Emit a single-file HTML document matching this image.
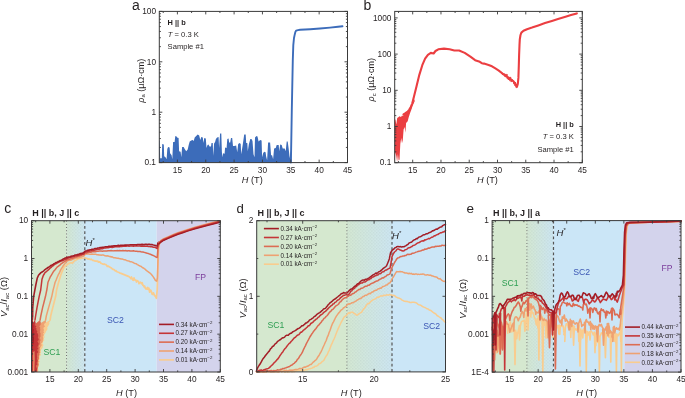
<!DOCTYPE html><html><head><meta charset="utf-8"><style>html,body{margin:0;padding:0;background:#fff;overflow:hidden}svg{display:block;will-change:transform}</style></head><body><svg width="685" height="398" viewBox="0 0 685 398" font-family="Liberation Sans, sans-serif">
<rect width="685" height="398" fill="#ffffff"/>
<defs>
<pattern id="stip" width="3.2" height="3.2" patternUnits="userSpaceOnUse"><rect x="0.2" y="0.2" width="1" height="1" fill="#9fb0b0" opacity="0.35"/><rect x="1.8" y="1.8" width="1" height="1" fill="#9fb0b0" opacity="0.35"/></pattern>
<linearGradient id="gb" x1="0" x2="1" y1="0" y2="0"><stop offset="0" stop-color="#d4e8d2"/><stop offset="1" stop-color="#cde6f2"/></linearGradient>
</defs>
<text x="132" y="10" font-size="14" text-anchor="start" font-weight="normal" font-style="normal" fill="#231f20" >a</text>
<polygon points="159.3,140.6 159.7,140.6 160.2,158.2 161.8,158.2 162.2,144.1 163.8,144.6 164.2,156.2 165.5,157.2 166.6,159.2 167.3,149.1 168.1,147.1 169.6,147.6 170.1,153.2 171.6,155.2 172.3,159.2 173.1,142.1 174.6,142.1 175.3,136.1 176.6,136.6 177.1,137.6 178.6,138.1 179.1,151.2 180.6,151.7 181.3,157.2 182.1,147.1 183.7,147.1 184.7,149.1 186.2,151.2 187.7,149.6 188.7,145.1 189.7,141.6 191.2,140.6 192.7,140.1 193.7,141.1 194.7,137.6 196.2,136.1 197.7,134.6 199.2,135.6 200.3,140.1 201.3,137.1 202.8,137.6 203.3,143.1 204.3,138.1 205.8,138.6 206.5,148.1 207.5,145.1 208.5,144.6 209.5,146.6 211,146.6 211.5,143.1 212.8,143.1 213.2,155.7 214.1,143.6 215.1,142.1 215.9,139.1 217.1,137.6 218.6,137.1 219.1,148.1 220.1,133.6 221.3,133.6 221.9,152.2 222.6,157.2 223.1,153.2 224.6,153.7 225.1,147.6 226.6,148.1 227.3,139.1 228.6,138.6 229.1,142.6 230.2,142.6 231,138.1 232.2,138.1 233,146.1 234.2,146.1 236.2,145.6 237.2,152.2 238.2,144.1 239.7,143.1 240.7,144.1 241.2,154.2 242.7,145.1 244.2,134.6 245.7,134.6 246.2,143.1 247.3,143.1 247.8,151.2 248.8,144.6 250.3,139.1 251.5,139.1 252.5,141.1 253.5,154.2 254.5,157.2 255,137.6 256.5,136.1 257.5,136.6 258.6,141.6 260.1,140.1 261.6,140.6 262.1,157.2 263.1,153.2 264.1,151.7 265.6,152.2 266.1,156.2 267.1,160.2 268.1,142.6 270.1,142.6 271.1,155.2 272.1,155.2 273.1,159.2 274.1,148.6 275.7,148.1 276.7,145.1 278.7,145.1 279.2,151.2 280.2,144.6 281.7,145.1 282.7,148.6 284.7,148.6 285.7,151.2 286.7,141.6 287.7,141.6 288.7,149.1 289.7,158.2 290.7,150 291.5,162.6 159.3,162.6" fill="#3c6cba" stroke="none" />
<polyline points="290.9,162.6 291.3,140 291.8,110 292.3,85 292.8,60 293.3,45.1 294,38 294.6,35.1 295.3,32.2 296.1,30.6 298,30.1 300.1,29.8 310.2,29.2 320,28.5 330,27.6 338,26.8 342.5,26.3" fill="none" stroke="#3c6cba" stroke-width="1.9" stroke-linejoin="round" stroke-linecap="round" />
<rect x="159.3" y="11.4" width="188.2" height="151.2" fill="none" stroke="#3a3a3a" stroke-width="1"/>
<line x1="177.4" y1="162.6" x2="177.4" y2="159.6" stroke="#3a3a3a" stroke-width="0.9" />
<line x1="177.4" y1="11.4" x2="177.4" y2="14.4" stroke="#3a3a3a" stroke-width="0.9" />
<text x="177.4" y="172.5" font-size="8.3" text-anchor="middle" font-weight="normal" font-style="normal" fill="#231f20" >15</text>
<line x1="205.75" y1="162.6" x2="205.75" y2="159.6" stroke="#3a3a3a" stroke-width="0.9" />
<line x1="205.75" y1="11.4" x2="205.75" y2="14.4" stroke="#3a3a3a" stroke-width="0.9" />
<text x="205.75" y="172.5" font-size="8.3" text-anchor="middle" font-weight="normal" font-style="normal" fill="#231f20" >20</text>
<line x1="234.1" y1="162.6" x2="234.1" y2="159.6" stroke="#3a3a3a" stroke-width="0.9" />
<line x1="234.1" y1="11.4" x2="234.1" y2="14.4" stroke="#3a3a3a" stroke-width="0.9" />
<text x="234.1" y="172.5" font-size="8.3" text-anchor="middle" font-weight="normal" font-style="normal" fill="#231f20" >25</text>
<line x1="262.45" y1="162.6" x2="262.45" y2="159.6" stroke="#3a3a3a" stroke-width="0.9" />
<line x1="262.45" y1="11.4" x2="262.45" y2="14.4" stroke="#3a3a3a" stroke-width="0.9" />
<text x="262.45" y="172.5" font-size="8.3" text-anchor="middle" font-weight="normal" font-style="normal" fill="#231f20" >30</text>
<line x1="290.8" y1="162.6" x2="290.8" y2="159.6" stroke="#3a3a3a" stroke-width="0.9" />
<line x1="290.8" y1="11.4" x2="290.8" y2="14.4" stroke="#3a3a3a" stroke-width="0.9" />
<text x="290.8" y="172.5" font-size="8.3" text-anchor="middle" font-weight="normal" font-style="normal" fill="#231f20" >35</text>
<line x1="319.15" y1="162.6" x2="319.15" y2="159.6" stroke="#3a3a3a" stroke-width="0.9" />
<line x1="319.15" y1="11.4" x2="319.15" y2="14.4" stroke="#3a3a3a" stroke-width="0.9" />
<text x="319.15" y="172.5" font-size="8.3" text-anchor="middle" font-weight="normal" font-style="normal" fill="#231f20" >40</text>
<line x1="347.5" y1="162.6" x2="347.5" y2="159.6" stroke="#3a3a3a" stroke-width="0.9" />
<line x1="347.5" y1="11.4" x2="347.5" y2="14.4" stroke="#3a3a3a" stroke-width="0.9" />
<text x="347.5" y="172.5" font-size="8.3" text-anchor="middle" font-weight="normal" font-style="normal" fill="#231f20" >45</text>
<line x1="163.22" y1="162.6" x2="163.22" y2="161" stroke="#3a3a3a" stroke-width="0.9" />
<line x1="163.22" y1="11.4" x2="163.22" y2="13" stroke="#3a3a3a" stroke-width="0.9" />
<line x1="191.58" y1="162.6" x2="191.58" y2="161" stroke="#3a3a3a" stroke-width="0.9" />
<line x1="191.58" y1="11.4" x2="191.58" y2="13" stroke="#3a3a3a" stroke-width="0.9" />
<line x1="219.93" y1="162.6" x2="219.93" y2="161" stroke="#3a3a3a" stroke-width="0.9" />
<line x1="219.93" y1="11.4" x2="219.93" y2="13" stroke="#3a3a3a" stroke-width="0.9" />
<line x1="248.28" y1="162.6" x2="248.28" y2="161" stroke="#3a3a3a" stroke-width="0.9" />
<line x1="248.28" y1="11.4" x2="248.28" y2="13" stroke="#3a3a3a" stroke-width="0.9" />
<line x1="276.62" y1="162.6" x2="276.62" y2="161" stroke="#3a3a3a" stroke-width="0.9" />
<line x1="276.62" y1="11.4" x2="276.62" y2="13" stroke="#3a3a3a" stroke-width="0.9" />
<line x1="304.98" y1="162.6" x2="304.98" y2="161" stroke="#3a3a3a" stroke-width="0.9" />
<line x1="304.98" y1="11.4" x2="304.98" y2="13" stroke="#3a3a3a" stroke-width="0.9" />
<line x1="333.33" y1="162.6" x2="333.33" y2="161" stroke="#3a3a3a" stroke-width="0.9" />
<line x1="333.33" y1="11.4" x2="333.33" y2="13" stroke="#3a3a3a" stroke-width="0.9" />
<line x1="159.3" y1="162.6" x2="162.3" y2="162.6" stroke="#3a3a3a" stroke-width="0.9" />
<line x1="347.5" y1="162.6" x2="344.5" y2="162.6" stroke="#3a3a3a" stroke-width="0.9" />
<text x="156" y="165.3" font-size="8.3" text-anchor="end" font-weight="normal" font-style="normal" fill="#231f20" >0.1</text>
<line x1="159.3" y1="147.43" x2="160.9" y2="147.43" stroke="#3a3a3a" stroke-width="0.9" />
<line x1="347.5" y1="147.43" x2="345.9" y2="147.43" stroke="#3a3a3a" stroke-width="0.9" />
<line x1="159.3" y1="138.55" x2="160.9" y2="138.55" stroke="#3a3a3a" stroke-width="0.9" />
<line x1="347.5" y1="138.55" x2="345.9" y2="138.55" stroke="#3a3a3a" stroke-width="0.9" />
<line x1="159.3" y1="132.26" x2="160.9" y2="132.26" stroke="#3a3a3a" stroke-width="0.9" />
<line x1="347.5" y1="132.26" x2="345.9" y2="132.26" stroke="#3a3a3a" stroke-width="0.9" />
<line x1="159.3" y1="127.37" x2="160.9" y2="127.37" stroke="#3a3a3a" stroke-width="0.9" />
<line x1="347.5" y1="127.37" x2="345.9" y2="127.37" stroke="#3a3a3a" stroke-width="0.9" />
<line x1="159.3" y1="123.38" x2="160.9" y2="123.38" stroke="#3a3a3a" stroke-width="0.9" />
<line x1="347.5" y1="123.38" x2="345.9" y2="123.38" stroke="#3a3a3a" stroke-width="0.9" />
<line x1="159.3" y1="120.01" x2="160.9" y2="120.01" stroke="#3a3a3a" stroke-width="0.9" />
<line x1="347.5" y1="120.01" x2="345.9" y2="120.01" stroke="#3a3a3a" stroke-width="0.9" />
<line x1="159.3" y1="117.08" x2="160.9" y2="117.08" stroke="#3a3a3a" stroke-width="0.9" />
<line x1="347.5" y1="117.08" x2="345.9" y2="117.08" stroke="#3a3a3a" stroke-width="0.9" />
<line x1="159.3" y1="114.51" x2="160.9" y2="114.51" stroke="#3a3a3a" stroke-width="0.9" />
<line x1="347.5" y1="114.51" x2="345.9" y2="114.51" stroke="#3a3a3a" stroke-width="0.9" />
<line x1="159.3" y1="112.2" x2="162.3" y2="112.2" stroke="#3a3a3a" stroke-width="0.9" />
<line x1="347.5" y1="112.2" x2="344.5" y2="112.2" stroke="#3a3a3a" stroke-width="0.9" />
<text x="156" y="114.9" font-size="8.3" text-anchor="end" font-weight="normal" font-style="normal" fill="#231f20" >1</text>
<line x1="159.3" y1="97.03" x2="160.9" y2="97.03" stroke="#3a3a3a" stroke-width="0.9" />
<line x1="347.5" y1="97.03" x2="345.9" y2="97.03" stroke="#3a3a3a" stroke-width="0.9" />
<line x1="159.3" y1="88.15" x2="160.9" y2="88.15" stroke="#3a3a3a" stroke-width="0.9" />
<line x1="347.5" y1="88.15" x2="345.9" y2="88.15" stroke="#3a3a3a" stroke-width="0.9" />
<line x1="159.3" y1="81.86" x2="160.9" y2="81.86" stroke="#3a3a3a" stroke-width="0.9" />
<line x1="347.5" y1="81.86" x2="345.9" y2="81.86" stroke="#3a3a3a" stroke-width="0.9" />
<line x1="159.3" y1="76.97" x2="160.9" y2="76.97" stroke="#3a3a3a" stroke-width="0.9" />
<line x1="347.5" y1="76.97" x2="345.9" y2="76.97" stroke="#3a3a3a" stroke-width="0.9" />
<line x1="159.3" y1="72.98" x2="160.9" y2="72.98" stroke="#3a3a3a" stroke-width="0.9" />
<line x1="347.5" y1="72.98" x2="345.9" y2="72.98" stroke="#3a3a3a" stroke-width="0.9" />
<line x1="159.3" y1="69.61" x2="160.9" y2="69.61" stroke="#3a3a3a" stroke-width="0.9" />
<line x1="347.5" y1="69.61" x2="345.9" y2="69.61" stroke="#3a3a3a" stroke-width="0.9" />
<line x1="159.3" y1="66.68" x2="160.9" y2="66.68" stroke="#3a3a3a" stroke-width="0.9" />
<line x1="347.5" y1="66.68" x2="345.9" y2="66.68" stroke="#3a3a3a" stroke-width="0.9" />
<line x1="159.3" y1="64.11" x2="160.9" y2="64.11" stroke="#3a3a3a" stroke-width="0.9" />
<line x1="347.5" y1="64.11" x2="345.9" y2="64.11" stroke="#3a3a3a" stroke-width="0.9" />
<line x1="159.3" y1="61.8" x2="162.3" y2="61.8" stroke="#3a3a3a" stroke-width="0.9" />
<line x1="347.5" y1="61.8" x2="344.5" y2="61.8" stroke="#3a3a3a" stroke-width="0.9" />
<text x="156" y="64.5" font-size="8.3" text-anchor="end" font-weight="normal" font-style="normal" fill="#231f20" >10</text>
<line x1="159.3" y1="46.63" x2="160.9" y2="46.63" stroke="#3a3a3a" stroke-width="0.9" />
<line x1="347.5" y1="46.63" x2="345.9" y2="46.63" stroke="#3a3a3a" stroke-width="0.9" />
<line x1="159.3" y1="37.75" x2="160.9" y2="37.75" stroke="#3a3a3a" stroke-width="0.9" />
<line x1="347.5" y1="37.75" x2="345.9" y2="37.75" stroke="#3a3a3a" stroke-width="0.9" />
<line x1="159.3" y1="31.46" x2="160.9" y2="31.46" stroke="#3a3a3a" stroke-width="0.9" />
<line x1="347.5" y1="31.46" x2="345.9" y2="31.46" stroke="#3a3a3a" stroke-width="0.9" />
<line x1="159.3" y1="26.57" x2="160.9" y2="26.57" stroke="#3a3a3a" stroke-width="0.9" />
<line x1="347.5" y1="26.57" x2="345.9" y2="26.57" stroke="#3a3a3a" stroke-width="0.9" />
<line x1="159.3" y1="22.58" x2="160.9" y2="22.58" stroke="#3a3a3a" stroke-width="0.9" />
<line x1="347.5" y1="22.58" x2="345.9" y2="22.58" stroke="#3a3a3a" stroke-width="0.9" />
<line x1="159.3" y1="19.21" x2="160.9" y2="19.21" stroke="#3a3a3a" stroke-width="0.9" />
<line x1="347.5" y1="19.21" x2="345.9" y2="19.21" stroke="#3a3a3a" stroke-width="0.9" />
<line x1="159.3" y1="16.28" x2="160.9" y2="16.28" stroke="#3a3a3a" stroke-width="0.9" />
<line x1="347.5" y1="16.28" x2="345.9" y2="16.28" stroke="#3a3a3a" stroke-width="0.9" />
<line x1="159.3" y1="13.71" x2="160.9" y2="13.71" stroke="#3a3a3a" stroke-width="0.9" />
<line x1="347.5" y1="13.71" x2="345.9" y2="13.71" stroke="#3a3a3a" stroke-width="0.9" />
<line x1="159.3" y1="11.4" x2="162.3" y2="11.4" stroke="#3a3a3a" stroke-width="0.9" />
<line x1="347.5" y1="11.4" x2="344.5" y2="11.4" stroke="#3a3a3a" stroke-width="0.9" />
<text x="156" y="14.1" font-size="8.3" text-anchor="end" font-weight="normal" font-style="normal" fill="#231f20" >100</text>
<text x="252.34" y="182.7" font-size="9.2" text-anchor="middle" font-weight="normal" font-style="normal" fill="#231f20" ><tspan font-style="italic">H</tspan> (T)</text>
<text transform="translate(143.6,80.7) rotate(-90)" font-size="9" text-anchor="middle" fill="#231f20"><tspan font-style="italic">ρ</tspan><tspan font-size="6" dy="1.5">a</tspan><tspan dy="-1.5"> (μΩ·cm)</tspan></text>
<text x="167.6" y="25.2" font-size="7.4" text-anchor="start" font-weight="bold" font-style="normal" fill="#231f20" >H || b</text>
<text x="167.8" y="37.4" font-size="7.6" text-anchor="start" font-weight="normal" font-style="normal" fill="#231f20" ><tspan font-style="italic">T</tspan> = 0.3 K</text>
<text x="167.6" y="49.3" font-size="7.6" text-anchor="start" font-weight="normal" font-style="normal" fill="#231f20" >Sample #1</text>
<text x="363.6" y="9.9" font-size="14" text-anchor="start" font-weight="normal" font-style="normal" fill="#231f20" >b</text>
<polygon points="394.7,119.6 395.4,119.6 396.3,124.5 397.2,118 398,117.5 399.5,116.3 401,117 402,115.5 403,116 404.4,113.9 406,113.2 407.7,112.2 409.3,109.8 411,107.3 412.6,103.3 414.2,99.5 414.8,101 412.5,106 411.8,108.5 410.1,113 408.5,118 407.7,121.2 406.1,122.9 405.4,132.7 404.6,127 403.6,129.4 402.8,140 402,143.3 401.2,138 400.3,144.1 399.9,152 399.5,159.6 398.7,160.4 397.9,153.9 397.1,162 396.3,156 395.4,152.2 394.7,162.7" fill="#eb3e41" stroke="none" />
<polyline points="403.5,114.5 405.5,113.2 407.7,111.6 409.3,109.6 410.8,107 412.2,103.6 413.8,97.3 416.6,85.9 419.4,74.6 422.3,65.2 425.1,58.6 427.9,54.8 430.8,52.9 433.6,53.5 435.5,51 438.3,49.3 444,48.6 449.6,49.2 454.3,50.5 459.1,50.5 464.7,52.9 470.4,56.7 475.1,60.2 479.8,61.8 481.8,63.2 484,63.6 488.6,65 492,66.3 495.4,68.4 498.8,70.6 502.1,73.3 505.5,75.6 508.9,77.9 511,79.5 513.5,81.3 515.5,84 516.9,86.9 517.8,84 518.4,77.9 518.8,66 519.1,55.2 519.5,45 519.8,39.4 520.5,35 521.4,32.6 523.5,30.8 527,29.2 532,27.6 538.3,25.4 545,23.1 551.9,20.9 558,19 565.5,16.8 571,15.1 576.8,13.4" fill="none" stroke="#eb3e41" stroke-width="2.1" stroke-linejoin="round" stroke-linecap="round" />
<polyline points="500,71.41 500.28,71.85 500.56,71.91 500.84,72.39 501.12,72.67 501.4,72.05 501.68,72.11 501.96,73.83 502.24,72.89 502.52,72.98 502.8,75 503.08,73.88 503.36,75.11 503.64,74.27 503.92,74.98 504.2,73.54 504.48,75.39 504.76,76.48 505.04,75.38 505.32,76.47 505.6,76.4 505.88,73.91 506.16,77.25 506.44,76.68 506.72,75.43 507,74.18 507.28,78.7 507.56,76.85 507.84,78.32 508.12,79.34 508.4,78.68 508.68,79.94 508.96,77.4 509.24,79.72 509.52,78.08 509.8,80.85 510.08,80.77 510.36,76.92 510.64,77.33 510.92,77.97 511.2,82.06 511.48,79.51 511.76,80.71 512.04,79.21 512.32,80.49 512.6,80.06 512.88,80.08 513.16,81.5 513.44,81.69 513.72,83.7 514,82.92 514.28,84.58 514.56,84.58 514.84,85.66 515.12,84.38 515.4,82.11 515.68,86.25 515.96,87.37 516.24,87.64 516.52,86.47" fill="none" stroke="#eb3e41" stroke-width="1.0" stroke-linejoin="round" stroke-linecap="round" />
<rect x="394.7" y="11.4" width="187.6" height="151.3" fill="none" stroke="#3a3a3a" stroke-width="1"/>
<line x1="412.7" y1="162.7" x2="412.7" y2="159.7" stroke="#3a3a3a" stroke-width="0.9" />
<line x1="412.7" y1="11.4" x2="412.7" y2="14.4" stroke="#3a3a3a" stroke-width="0.9" />
<text x="412.7" y="172.5" font-size="8.3" text-anchor="middle" font-weight="normal" font-style="normal" fill="#231f20" >15</text>
<line x1="440.97" y1="162.7" x2="440.97" y2="159.7" stroke="#3a3a3a" stroke-width="0.9" />
<line x1="440.97" y1="11.4" x2="440.97" y2="14.4" stroke="#3a3a3a" stroke-width="0.9" />
<text x="440.97" y="172.5" font-size="8.3" text-anchor="middle" font-weight="normal" font-style="normal" fill="#231f20" >20</text>
<line x1="469.23" y1="162.7" x2="469.23" y2="159.7" stroke="#3a3a3a" stroke-width="0.9" />
<line x1="469.23" y1="11.4" x2="469.23" y2="14.4" stroke="#3a3a3a" stroke-width="0.9" />
<text x="469.23" y="172.5" font-size="8.3" text-anchor="middle" font-weight="normal" font-style="normal" fill="#231f20" >25</text>
<line x1="497.5" y1="162.7" x2="497.5" y2="159.7" stroke="#3a3a3a" stroke-width="0.9" />
<line x1="497.5" y1="11.4" x2="497.5" y2="14.4" stroke="#3a3a3a" stroke-width="0.9" />
<text x="497.5" y="172.5" font-size="8.3" text-anchor="middle" font-weight="normal" font-style="normal" fill="#231f20" >30</text>
<line x1="525.77" y1="162.7" x2="525.77" y2="159.7" stroke="#3a3a3a" stroke-width="0.9" />
<line x1="525.77" y1="11.4" x2="525.77" y2="14.4" stroke="#3a3a3a" stroke-width="0.9" />
<text x="525.77" y="172.5" font-size="8.3" text-anchor="middle" font-weight="normal" font-style="normal" fill="#231f20" >35</text>
<line x1="554.03" y1="162.7" x2="554.03" y2="159.7" stroke="#3a3a3a" stroke-width="0.9" />
<line x1="554.03" y1="11.4" x2="554.03" y2="14.4" stroke="#3a3a3a" stroke-width="0.9" />
<text x="554.03" y="172.5" font-size="8.3" text-anchor="middle" font-weight="normal" font-style="normal" fill="#231f20" >40</text>
<line x1="582.3" y1="162.7" x2="582.3" y2="159.7" stroke="#3a3a3a" stroke-width="0.9" />
<line x1="582.3" y1="11.4" x2="582.3" y2="14.4" stroke="#3a3a3a" stroke-width="0.9" />
<text x="582.3" y="172.5" font-size="8.3" text-anchor="middle" font-weight="normal" font-style="normal" fill="#231f20" >45</text>
<line x1="398.57" y1="162.7" x2="398.57" y2="161.1" stroke="#3a3a3a" stroke-width="0.9" />
<line x1="398.57" y1="11.4" x2="398.57" y2="13" stroke="#3a3a3a" stroke-width="0.9" />
<line x1="426.83" y1="162.7" x2="426.83" y2="161.1" stroke="#3a3a3a" stroke-width="0.9" />
<line x1="426.83" y1="11.4" x2="426.83" y2="13" stroke="#3a3a3a" stroke-width="0.9" />
<line x1="455.1" y1="162.7" x2="455.1" y2="161.1" stroke="#3a3a3a" stroke-width="0.9" />
<line x1="455.1" y1="11.4" x2="455.1" y2="13" stroke="#3a3a3a" stroke-width="0.9" />
<line x1="483.37" y1="162.7" x2="483.37" y2="161.1" stroke="#3a3a3a" stroke-width="0.9" />
<line x1="483.37" y1="11.4" x2="483.37" y2="13" stroke="#3a3a3a" stroke-width="0.9" />
<line x1="511.63" y1="162.7" x2="511.63" y2="161.1" stroke="#3a3a3a" stroke-width="0.9" />
<line x1="511.63" y1="11.4" x2="511.63" y2="13" stroke="#3a3a3a" stroke-width="0.9" />
<line x1="539.9" y1="162.7" x2="539.9" y2="161.1" stroke="#3a3a3a" stroke-width="0.9" />
<line x1="539.9" y1="11.4" x2="539.9" y2="13" stroke="#3a3a3a" stroke-width="0.9" />
<line x1="568.17" y1="162.7" x2="568.17" y2="161.1" stroke="#3a3a3a" stroke-width="0.9" />
<line x1="568.17" y1="11.4" x2="568.17" y2="13" stroke="#3a3a3a" stroke-width="0.9" />
<line x1="394.7" y1="162.7" x2="397.7" y2="162.7" stroke="#3a3a3a" stroke-width="0.9" />
<line x1="582.3" y1="162.7" x2="579.3" y2="162.7" stroke="#3a3a3a" stroke-width="0.9" />
<text x="391.4" y="165.4" font-size="8.3" text-anchor="end" font-weight="normal" font-style="normal" fill="#231f20" >0.1</text>
<line x1="394.7" y1="151.8" x2="396.3" y2="151.8" stroke="#3a3a3a" stroke-width="0.9" />
<line x1="582.3" y1="151.8" x2="580.7" y2="151.8" stroke="#3a3a3a" stroke-width="0.9" />
<line x1="394.7" y1="145.43" x2="396.3" y2="145.43" stroke="#3a3a3a" stroke-width="0.9" />
<line x1="582.3" y1="145.43" x2="580.7" y2="145.43" stroke="#3a3a3a" stroke-width="0.9" />
<line x1="394.7" y1="140.91" x2="396.3" y2="140.91" stroke="#3a3a3a" stroke-width="0.9" />
<line x1="582.3" y1="140.91" x2="580.7" y2="140.91" stroke="#3a3a3a" stroke-width="0.9" />
<line x1="394.7" y1="137.4" x2="396.3" y2="137.4" stroke="#3a3a3a" stroke-width="0.9" />
<line x1="582.3" y1="137.4" x2="580.7" y2="137.4" stroke="#3a3a3a" stroke-width="0.9" />
<line x1="394.7" y1="134.53" x2="396.3" y2="134.53" stroke="#3a3a3a" stroke-width="0.9" />
<line x1="582.3" y1="134.53" x2="580.7" y2="134.53" stroke="#3a3a3a" stroke-width="0.9" />
<line x1="394.7" y1="132.11" x2="396.3" y2="132.11" stroke="#3a3a3a" stroke-width="0.9" />
<line x1="582.3" y1="132.11" x2="580.7" y2="132.11" stroke="#3a3a3a" stroke-width="0.9" />
<line x1="394.7" y1="130.01" x2="396.3" y2="130.01" stroke="#3a3a3a" stroke-width="0.9" />
<line x1="582.3" y1="130.01" x2="580.7" y2="130.01" stroke="#3a3a3a" stroke-width="0.9" />
<line x1="394.7" y1="128.16" x2="396.3" y2="128.16" stroke="#3a3a3a" stroke-width="0.9" />
<line x1="582.3" y1="128.16" x2="580.7" y2="128.16" stroke="#3a3a3a" stroke-width="0.9" />
<line x1="394.7" y1="126.5" x2="397.7" y2="126.5" stroke="#3a3a3a" stroke-width="0.9" />
<line x1="582.3" y1="126.5" x2="579.3" y2="126.5" stroke="#3a3a3a" stroke-width="0.9" />
<text x="391.4" y="129.2" font-size="8.3" text-anchor="end" font-weight="normal" font-style="normal" fill="#231f20" >1</text>
<line x1="394.7" y1="115.6" x2="396.3" y2="115.6" stroke="#3a3a3a" stroke-width="0.9" />
<line x1="582.3" y1="115.6" x2="580.7" y2="115.6" stroke="#3a3a3a" stroke-width="0.9" />
<line x1="394.7" y1="109.23" x2="396.3" y2="109.23" stroke="#3a3a3a" stroke-width="0.9" />
<line x1="582.3" y1="109.23" x2="580.7" y2="109.23" stroke="#3a3a3a" stroke-width="0.9" />
<line x1="394.7" y1="104.71" x2="396.3" y2="104.71" stroke="#3a3a3a" stroke-width="0.9" />
<line x1="582.3" y1="104.71" x2="580.7" y2="104.71" stroke="#3a3a3a" stroke-width="0.9" />
<line x1="394.7" y1="101.2" x2="396.3" y2="101.2" stroke="#3a3a3a" stroke-width="0.9" />
<line x1="582.3" y1="101.2" x2="580.7" y2="101.2" stroke="#3a3a3a" stroke-width="0.9" />
<line x1="394.7" y1="98.33" x2="396.3" y2="98.33" stroke="#3a3a3a" stroke-width="0.9" />
<line x1="582.3" y1="98.33" x2="580.7" y2="98.33" stroke="#3a3a3a" stroke-width="0.9" />
<line x1="394.7" y1="95.91" x2="396.3" y2="95.91" stroke="#3a3a3a" stroke-width="0.9" />
<line x1="582.3" y1="95.91" x2="580.7" y2="95.91" stroke="#3a3a3a" stroke-width="0.9" />
<line x1="394.7" y1="93.81" x2="396.3" y2="93.81" stroke="#3a3a3a" stroke-width="0.9" />
<line x1="582.3" y1="93.81" x2="580.7" y2="93.81" stroke="#3a3a3a" stroke-width="0.9" />
<line x1="394.7" y1="91.96" x2="396.3" y2="91.96" stroke="#3a3a3a" stroke-width="0.9" />
<line x1="582.3" y1="91.96" x2="580.7" y2="91.96" stroke="#3a3a3a" stroke-width="0.9" />
<line x1="394.7" y1="90.3" x2="397.7" y2="90.3" stroke="#3a3a3a" stroke-width="0.9" />
<line x1="582.3" y1="90.3" x2="579.3" y2="90.3" stroke="#3a3a3a" stroke-width="0.9" />
<text x="391.4" y="93" font-size="8.3" text-anchor="end" font-weight="normal" font-style="normal" fill="#231f20" >10</text>
<line x1="394.7" y1="79.4" x2="396.3" y2="79.4" stroke="#3a3a3a" stroke-width="0.9" />
<line x1="582.3" y1="79.4" x2="580.7" y2="79.4" stroke="#3a3a3a" stroke-width="0.9" />
<line x1="394.7" y1="73.03" x2="396.3" y2="73.03" stroke="#3a3a3a" stroke-width="0.9" />
<line x1="582.3" y1="73.03" x2="580.7" y2="73.03" stroke="#3a3a3a" stroke-width="0.9" />
<line x1="394.7" y1="68.51" x2="396.3" y2="68.51" stroke="#3a3a3a" stroke-width="0.9" />
<line x1="582.3" y1="68.51" x2="580.7" y2="68.51" stroke="#3a3a3a" stroke-width="0.9" />
<line x1="394.7" y1="65" x2="396.3" y2="65" stroke="#3a3a3a" stroke-width="0.9" />
<line x1="582.3" y1="65" x2="580.7" y2="65" stroke="#3a3a3a" stroke-width="0.9" />
<line x1="394.7" y1="62.13" x2="396.3" y2="62.13" stroke="#3a3a3a" stroke-width="0.9" />
<line x1="582.3" y1="62.13" x2="580.7" y2="62.13" stroke="#3a3a3a" stroke-width="0.9" />
<line x1="394.7" y1="59.71" x2="396.3" y2="59.71" stroke="#3a3a3a" stroke-width="0.9" />
<line x1="582.3" y1="59.71" x2="580.7" y2="59.71" stroke="#3a3a3a" stroke-width="0.9" />
<line x1="394.7" y1="57.61" x2="396.3" y2="57.61" stroke="#3a3a3a" stroke-width="0.9" />
<line x1="582.3" y1="57.61" x2="580.7" y2="57.61" stroke="#3a3a3a" stroke-width="0.9" />
<line x1="394.7" y1="55.76" x2="396.3" y2="55.76" stroke="#3a3a3a" stroke-width="0.9" />
<line x1="582.3" y1="55.76" x2="580.7" y2="55.76" stroke="#3a3a3a" stroke-width="0.9" />
<line x1="394.7" y1="54.1" x2="397.7" y2="54.1" stroke="#3a3a3a" stroke-width="0.9" />
<line x1="582.3" y1="54.1" x2="579.3" y2="54.1" stroke="#3a3a3a" stroke-width="0.9" />
<text x="391.4" y="56.8" font-size="8.3" text-anchor="end" font-weight="normal" font-style="normal" fill="#231f20" >100</text>
<line x1="394.7" y1="43.2" x2="396.3" y2="43.2" stroke="#3a3a3a" stroke-width="0.9" />
<line x1="582.3" y1="43.2" x2="580.7" y2="43.2" stroke="#3a3a3a" stroke-width="0.9" />
<line x1="394.7" y1="36.83" x2="396.3" y2="36.83" stroke="#3a3a3a" stroke-width="0.9" />
<line x1="582.3" y1="36.83" x2="580.7" y2="36.83" stroke="#3a3a3a" stroke-width="0.9" />
<line x1="394.7" y1="32.31" x2="396.3" y2="32.31" stroke="#3a3a3a" stroke-width="0.9" />
<line x1="582.3" y1="32.31" x2="580.7" y2="32.31" stroke="#3a3a3a" stroke-width="0.9" />
<line x1="394.7" y1="28.8" x2="396.3" y2="28.8" stroke="#3a3a3a" stroke-width="0.9" />
<line x1="582.3" y1="28.8" x2="580.7" y2="28.8" stroke="#3a3a3a" stroke-width="0.9" />
<line x1="394.7" y1="25.93" x2="396.3" y2="25.93" stroke="#3a3a3a" stroke-width="0.9" />
<line x1="582.3" y1="25.93" x2="580.7" y2="25.93" stroke="#3a3a3a" stroke-width="0.9" />
<line x1="394.7" y1="23.51" x2="396.3" y2="23.51" stroke="#3a3a3a" stroke-width="0.9" />
<line x1="582.3" y1="23.51" x2="580.7" y2="23.51" stroke="#3a3a3a" stroke-width="0.9" />
<line x1="394.7" y1="21.41" x2="396.3" y2="21.41" stroke="#3a3a3a" stroke-width="0.9" />
<line x1="582.3" y1="21.41" x2="580.7" y2="21.41" stroke="#3a3a3a" stroke-width="0.9" />
<line x1="394.7" y1="19.56" x2="396.3" y2="19.56" stroke="#3a3a3a" stroke-width="0.9" />
<line x1="582.3" y1="19.56" x2="580.7" y2="19.56" stroke="#3a3a3a" stroke-width="0.9" />
<line x1="394.7" y1="17.9" x2="397.7" y2="17.9" stroke="#3a3a3a" stroke-width="0.9" />
<line x1="582.3" y1="17.9" x2="579.3" y2="17.9" stroke="#3a3a3a" stroke-width="0.9" />
<text x="391.4" y="20.6" font-size="8.3" text-anchor="end" font-weight="normal" font-style="normal" fill="#231f20" >1000</text>
<text x="487.42" y="182.7" font-size="9.2" text-anchor="middle" font-weight="normal" font-style="normal" fill="#231f20" ><tspan font-style="italic">H</tspan> (T)</text>
<text transform="translate(374,79.7) rotate(-90)" font-size="9" text-anchor="middle" fill="#231f20"><tspan font-style="italic">ρ</tspan><tspan font-size="6" dy="1.5">c</tspan><tspan dy="-1.5"> (μΩ·cm)</tspan></text>
<text x="573.8" y="127.3" font-size="7.4" text-anchor="end" font-weight="bold" font-style="normal" fill="#231f20" >H || b</text>
<text x="573.8" y="139.4" font-size="7.6" text-anchor="end" font-weight="normal" font-style="normal" fill="#231f20" ><tspan font-style="italic">T</tspan> = 0.3 K</text>
<text x="573.8" y="151.5" font-size="7.6" text-anchor="end" font-weight="normal" font-style="normal" fill="#231f20" >Sample #1</text>
<text x="4.2" y="212.9" font-size="14" text-anchor="start" font-weight="normal" font-style="normal" fill="#231f20" >c</text>
<text x="32.3" y="215.8" font-size="9" text-anchor="start" font-weight="bold" font-style="normal" fill="#231f20" >H || b, J || c</text>
<rect x="31.5" y="220.7" width="35" height="151.3" fill="#d5e8cf" />
<rect x="66.5" y="220.7" width="18.3" height="151.3" fill="url(#gb)" />
<rect x="66.5" y="220.7" width="18.3" height="151.3" fill="url(#stip)" />
<rect x="84.8" y="220.7" width="71.88" height="151.3" fill="#cbe6f7" />
<rect x="156.68" y="220.7" width="63.62" height="151.3" fill="#d3d3ec" />
<text x="43.4" y="355.4" font-size="8.7" text-anchor="start" font-weight="normal" font-style="normal" fill="#2e9e52" >SC1</text>
<text x="106.9" y="323.1" font-size="8.7" text-anchor="start" font-weight="normal" font-style="normal" fill="#3b57b4" >SC2</text>
<text x="195.1" y="280.2" font-size="8.6" text-anchor="start" font-weight="normal" font-style="normal" fill="#7b3c9b" >FP</text>
<line x1="66.5" y1="220.7" x2="66.5" y2="372" stroke="#666666" stroke-width="1.0" stroke-dasharray="0.9 2.3"/>
<line x1="84.8" y1="220.7" x2="84.8" y2="372" stroke="#555555" stroke-width="1.2" stroke-dasharray="2.8 2.5"/>
<text x="85.6" y="245.5" font-size="9.5" text-anchor="start" font-weight="normal" font-style="normal" fill="#231f20" ><tspan font-style="italic">H</tspan><tspan font-size="6" dy="-3.5">*</tspan></text>
<polygon points="31.5,331 50.1,320 50.3,321 49.2,322.33 49.47,323.67 48.82,325 48.07,326.25 47.15,327.5 47.57,328.75 47.09,330 46.12,331.33 45.61,332.67 44.68,334 44.09,335.2 44.45,336.4 44.58,337.6 43.53,338.8 44.47,340 43.27,341.25 42.97,342.5 42.37,343.75 43.6,345 42.86,346.25 42.75,347.5 42.01,348.75 40.75,350 40.97,351.2 40.98,352.4 40.11,353.6 41.18,354.8 39.99,356 39.41,357.4 40.23,358.8 38.88,360.2 39.92,361.6 38.93,363 38.91,364.29 38.41,365.57 38.46,366.86 37.81,368.14 37.4,369.43 38.56,370.71 37.8,372 31.5,372" fill="#f9cc8e" stroke="none" />
<polygon points="31.5,329 45.6,320 45.8,321 46.13,322.33 44.42,323.67 43.84,325 45.2,326.25 43.69,327.5 43.39,328.75 44.04,330 43.4,331.25 44.12,332.5 42.92,333.75 43.94,335 42.74,336.25 43.01,337.5 43.37,338.75 42.8,340 42.88,341.25 42.23,342.5 40.88,343.75 41.91,345 41.12,346.25 40.35,347.5 39.83,348.75 40.56,350 39.93,351.2 40.3,352.4 39.84,353.6 39.94,354.8 39.11,356 39.2,357.4 38.94,358.8 38.25,360.2 39.25,361.6 38.1,363 38.72,364.29 38.87,365.57 38.26,366.86 37.31,368.14 38.28,369.43 37.9,370.71 37.5,372 31.5,372" fill="#eea172" stroke="none" />
<polygon points="31.5,327 40.1,320 40.3,321 40.81,322.33 40.68,323.67 40.43,325 39.26,326.25 40.2,327.5 40.05,328.75 40.35,330 39.83,331.25 40.06,332.5 40.59,333.75 40.35,335 40.6,336.25 39.79,337.5 39.76,338.75 40.64,340 40,341.25 39.97,342.5 40.15,343.75 39.37,345 38.79,346.25 39.85,347.5 39.44,348.75 39.45,350 39.31,351.2 39.79,352.4 38.74,353.6 39.3,354.8 38.59,356 38.8,357.4 38.82,358.8 38.14,360.2 37.66,361.6 38.16,363 38.42,364.29 38.09,365.57 37.73,366.86 37.91,368.14 37.05,369.43 36.91,370.71 37.3,372 31.5,372" fill="#dc6c53" stroke="none" />
<polygon points="31.5,325 35,320 35.2,321 35.54,322.33 35.74,323.67 34.69,325 36.4,326.25 35.51,327.5 36.67,328.75 36.15,330 37.46,331.25 36.74,332.5 37.88,333.75 38.16,335 38.28,336.25 37.81,337.5 38.54,338.75 38.78,340 37.38,341.25 38.03,342.5 38.73,343.75 38.38,345 37.81,346.25 37.49,347.5 38.42,348.75 36.94,350 37.94,351.2 37.99,352.4 36.81,353.6 37,354.8 36.89,356 37.19,357.4 36.83,358.8 37.59,360.2 37.56,361.6 36.51,363 37.39,364.29 36.03,365.57 36.03,366.86 36.89,368.14 37.06,369.43 37.05,370.71 36.5,372 31.5,372" fill="#c53537" stroke="none" />
<polygon points="31.5,321 32.3,318 32.5,319 32.57,320.33 33.17,321.67 33.27,323 32.87,324.4 33.5,325.8 33.41,327.2 33.03,328.6 33.86,330 33.38,331.25 33.49,332.5 33.66,333.75 33.87,335 33.5,336.25 33.95,337.5 34.07,338.75 33.81,340 33.89,341.25 33.6,342.5 33.61,343.75 32.94,345 32.91,346.25 32.83,347.5 32.36,348.75 32.88,350 32.55,351.2 32.06,352.4 32.39,353.6 32.19,354.8 31.95,356 31.89,357.4 32.09,358.8 31.74,360.2 32.09,361.6 32.01,363 31.7,364.29 32.3,365.57 31.63,366.86 31.74,368.14 32.25,369.43 31.78,370.71 32,372 31.5,372" fill="#a31d26" stroke="none" />
<polygon points="33.2,352 34.4,351 34.6,360 34.2,372 33.1,372 33.3,362" fill="#eea172" stroke="none" />
<polyline points="50.1,320 50.7,316 51.75,311.56 52.8,307.6 54.25,301.76 55.7,296.3 56.6,290 57.6,286.05 58.6,282.2 59.85,278.24 61.1,274.1 62.6,270.42 64.1,267.1 65.4,265.91 66.7,265.1 67.95,263.97 69.2,263.1 70.2,262.98 71.2,262.6 72.7,263.1 74.2,261.1 75.2,260.3 76.2,259.97 77.2,259.31 78.2,258.6 84.3,258 85.2,257.76 86.1,258.07 87,258.34 87.9,259.12 88.8,258.9 89.61,259.14 90.42,259.6 91.23,259.22 92.04,259.87 92.85,260.44 93.66,260.36 94.47,261.02 95.28,261.2 96.09,260.93 96.9,261.3 97.7,261.12 98.5,262.2 99.3,261.89 100.1,262.09 100.9,263.13 101.7,263.56 102.5,263.88 103.3,264.31 104.1,263.88 104.9,264.5 105.7,264.57 106.5,265.1 107.3,266.45 108.1,266.07 108.9,266.61 109.7,266.96 110.5,267.48 111.3,267.96 112.1,268.76 112.9,269.4 113.71,269.46 114.52,270.01 115.33,271.03 116.14,270.67 116.95,271.71 117.76,272.04 118.57,272.27 119.38,272.68 120.19,273.27 121,273.4 129,276.6 129.62,277.17 130.25,277.72 130.87,278.73 131.49,276.98 132.12,278.72 132.74,279.93 133.36,280.31 133.98,277.87 134.61,279.95 135.23,280.12 135.85,280 136.48,282.06 137.1,280.6 137.74,281.19 138.38,281.35 139.02,283.73 139.66,283.04 140.3,282.24 140.94,282.76 141.58,283.95 142.22,282.74 142.86,285.33 143.5,285.4 144.1,286.8 144.7,286.12 145.3,288.22 145.9,289.03 146.5,288.11 147.1,289.09 147.7,287.45 148.3,289.4 148.94,288.21 149.58,292.22 150.22,290.08 150.86,290.31 151.5,291.9 152.14,294.21 152.78,294.45 153.42,292.87 154.06,294.42 154.7,295.9 155.5,296.12 156.3,298.3 157.2,290 157.7,275 158.1,258 158.6,246 159.6,243.2" fill="none" stroke="#f9cc8e" stroke-width="1.7" stroke-linejoin="round" stroke-linecap="round" />
<polyline points="45.6,320 46.3,316 47.45,311.82 48.6,307.6 49.67,303.88 50.73,300.27 51.8,296.3 53.1,290 54.1,286.34 55.1,282.2 56.1,280.1 57.1,277.45 58.1,275.2 59.1,273.44 60.1,271.09 61.1,269.1 62.27,267.32 63.43,265.52 64.6,264.1 65.9,262.61 67.2,261.1 68.2,260.56 69.2,260.3 70.2,260.17 71.2,259.93 72.2,259.58 73.2,259.1 74.2,258.55 75.2,258.24 76.2,258.05 77.2,257.93 78.2,257.8 79.2,257.48 80.2,257 81.47,256.93 82.73,256.39 84,256 84.6,254.3 85.66,254.35 86.71,254.12 87.77,254.1 88.83,254.01 89.89,254.18 90.94,254.19 92,254.1 93.01,254.24 94.03,254.24 95.04,254.35 96.05,254.35 97.06,254.79 98.07,254.75 99.09,254.95 100.1,254.9 101.1,255.22 102.1,255.04 103.1,255.08 104.1,255.32 105.1,255.83 106.1,255.9 107.1,255.81 108.1,256 109.11,256.43 110.12,256.43 111.14,257.01 112.15,256.8 113.16,257.46 114.17,257.86 115.19,257.79 116.2,258.1 117.2,258.28 118.2,258.28 119.2,258.57 120.2,258.74 121.2,258.98 122.2,259.04 123.2,259.38 124.2,259.7 125.34,259.81 126.49,260.4 127.63,260.67 128.77,260.91 129.91,261.68 131.06,261.64 132.2,262.1 133.22,262.54 134.25,263.19 135.28,263.53 136.3,263.8 137.3,264.65 138.3,265.02 139.3,265.75 140.3,266.1 141.3,266.49 142.3,267.54 143.3,267.95 144.3,268.7 145.3,269.37 146.3,270.41 147.3,271.17 148.3,271.8 149.65,272.81 151,274 152.05,275.22 153.1,276.6 154.3,278.47 155.5,280.6 156.7,281.1 157.4,278 157.9,262 158.4,248 159.6,243" fill="none" stroke="#eea172" stroke-width="1.5" stroke-linejoin="round" stroke-linecap="round" />
<polyline points="40.1,320 40.8,316 42.6,307.6 44.05,301.97 45.5,296.3 47,289 48,282.2 49.05,279.8 50.1,277.2 51.1,275.6 52.1,273.95 53.1,272.1 54.1,270.76 55.1,269.79 56.1,268.38 57.1,267.1 58.1,266.4 59.1,265.6 60.1,264.87 61.1,263.81 62.1,263.1 63.25,262.3 64.4,261.69 65.55,260.88 66.7,260.1 67.78,259.85 68.87,259.35 69.95,259.23 71.03,258.5 72.12,258.44 73.2,258 74.36,257.59 75.52,257.09 76.68,256.99 77.84,256.38 79,256.2 80,255.77 81,255.49 82,255.1 83,254.79 84,254.6 84.6,253.5 85.66,253.09 86.71,253.15 87.77,252.6 88.83,252.39 89.89,252.12 90.94,252.21 92,251.8 93.01,251.73 94.03,251.75 95.04,251.73 96.05,251.45 97.06,251.32 98.07,251.23 99.09,251.09 100.1,251.1 101.23,251.1 102.36,251.2 103.49,250.97 104.61,251.03 105.74,251.04 106.87,250.97 108,250.8 109.03,250.86 110.05,250.79 111.08,250.6 112.1,250.7 113.12,250.88 114.15,250.7 115.17,250.78 116.2,250.7 117.31,250.6 118.43,250.73 119.54,250.59 120.66,250.81 121.77,250.83 122.89,250.51 124,250.7 125.03,250.79 126.05,250.59 127.07,250.95 128.1,250.67 129.12,250.68 130.15,251.01 131.17,250.92 132.2,250.9 133.33,250.8 134.47,251.09 135.6,251.33 136.73,251.17 137.87,251.5 139,251.5 140.02,251.6 141.03,251.84 142.05,252.01 143.07,252.05 144.08,252.37 145.1,252.6 146.23,252.94 147.37,253.31 148.5,253.6 149.5,254.02 150.5,254.27 151.5,254.8 152.5,255.28 153.5,255.58 154.5,256.1 155.85,256.96 157.2,257.5 157.8,250 158.5,244.5 159.8,242.5" fill="none" stroke="#dc6c53" stroke-width="1.5" stroke-linejoin="round" stroke-linecap="round" />
<polyline points="35,320 35.6,316 37,307.6 38.1,301.88 39.2,296.3 40.7,290 42,279.2 43.3,275.5 45,272.6 46.02,271.89 47.04,270.98 48.06,270.07 49.08,269.12 50.1,268.1 51.1,267.45 52.1,266.3 53.1,265.75 54.1,264.8 55.1,264.1 56.1,263.69 57.1,263.07 58.1,262.62 59.1,262.12 60.1,261.6 61.2,261.13 62.3,260.73 63.4,260.29 64.5,259.54 65.6,259.22 66.7,258.6 67.76,258.44 68.82,257.92 69.88,257.49 70.94,257.32 72,257 73,256.86 74,256.51 75,256.12 76,256.08 77,255.68 78,255.5 79,255.37 80,254.8 81,254.69 82,254.32 83,254.28 84,253.8 84.6,252.5 85.66,252.07 86.71,252.08 87.77,251.61 88.83,251.31 89.89,250.95 90.94,250.78 92,250.5 93.01,250.47 94.03,250.3 95.04,250.08 96.05,249.74 97.06,249.39 98.07,249.3 99.09,249.16 100.1,248.9 101.23,248.65 102.36,248.75 103.49,248.22 104.61,248.11 105.74,247.92 106.87,247.74 108,247.7 109.03,247.41 110.05,247.37 111.08,247.31 112.1,247.43 113.12,247.16 114.15,247.07 115.17,246.85 116.2,246.8 117.31,246.6 118.43,246.68 119.54,246.68 120.66,246.35 121.77,246.5 122.89,246.26 124,246.3 125.03,246.34 126.05,246.17 127.07,246.05 128.1,246.01 129.12,246.23 130.15,246.09 131.17,245.87 132.2,246 133.31,246.16 134.43,245.91 135.54,245.91 136.66,245.8 137.77,245.92 138.89,246.02 140,246 141.04,246.21 142.07,246.02 143.11,246.15 144.15,246.03 145.19,246.32 146.23,246.22 147.26,246.3 148.3,246.4 149.53,246.41 150.77,246.73 152,246.7 153.35,247.19 154.7,247.3 155.95,247.76 157.2,248.5 157.9,245 159.5,242.2" fill="none" stroke="#c53537" stroke-width="1.5" stroke-linejoin="round" stroke-linecap="round" />
<polyline points="32.3,320 32.6,316 32.7,307.6 33.7,296.3 34.75,290.72 35.8,285 37.2,278.3 38.5,275.2 40,273.6 41,272.64 42,272.05 43,271.34 44,270.53 45,269.6 46.02,268.91 47.04,268.25 48.06,267.45 49.08,266.81 50.1,266.1 51.1,265.34 52.1,264.97 53.1,264.34 54.1,263.61 55.1,263.1 56.1,262.55 57.1,262.19 58.1,261.58 59.1,261.28 60.1,260.6 61.2,260.27 62.3,259.7 63.4,258.89 64.5,258.36 65.6,257.93 66.7,257.5 67.8,257.14 68.9,256.98 70,256.73 71.1,256.33 72.2,256 73.2,255.81 74.2,255.53 75.2,255.06 76.2,255.01 77.2,254.64 78.2,254.5 79.36,254.09 80.52,253.54 81.68,253.42 82.84,253.14 84,252.6 84.6,251.4 85.66,250.93 86.71,250.83 87.77,250.31 88.83,250.14 89.89,249.76 90.94,249.74 92,249.3 93.01,249.18 94.03,249.03 95.04,248.55 96.05,248.54 97.06,248.32 98.07,248.03 99.09,247.98 100.1,247.6 101.23,247.51 102.36,247.23 103.49,247.26 104.61,247.02 105.74,246.77 106.87,246.79 108,246.6 109.03,246.31 110.05,246.35 111.08,246.29 112.1,245.95 113.12,246.1 114.15,245.76 115.17,245.87 116.2,245.7 117.31,245.57 118.43,245.37 119.54,245.69 120.66,245.24 121.77,245.21 122.89,245.27 124,245.2 125.03,245.05 126.05,245.11 127.07,245.04 128.1,245.03 129.12,244.97 130.15,244.82 131.17,244.73 132.2,244.8 133.31,244.85 134.43,244.71 135.54,244.72 136.66,244.85 137.77,244.46 138.89,244.54 140,244.6 141.04,244.6 142.07,244.37 143.11,244.63 144.15,244.46 145.19,244.4 146.23,244.33 147.26,244.61 148.3,244.4 149.53,244.29 150.77,244.66 152,244.6 153.35,244.98 154.7,245.2 155.95,245.76 157.2,246 158,242.8 159.5,241.8" fill="none" stroke="#a31d26" stroke-width="1.6" stroke-linejoin="round" stroke-linecap="round" />
<polyline points="158.8,243.3 161,240.5 163.8,238.7 168,236.9 173,234.8 178,232.8 182.7,231.2 188,229.4 195,227.2 201.5,225.5 208,223.8 214,222.2 219.7,220.7" fill="none" stroke="#eea172" stroke-width="1.6" stroke-linejoin="round" stroke-linecap="round" />
<polyline points="158.8,243.3 161,240.9 163.8,239.1 168,237.3 173,235.2 178,233.2 182.7,231.6 188,229.8 195,227.6 201.5,225.9 208,224.2 214,222.6 219.7,221.1" fill="none" stroke="#dc6c53" stroke-width="1.4" stroke-linejoin="round" stroke-linecap="round" />
<polyline points="158.8,243.5 161,241.5 163.8,239.7 168,237.9 173,235.8 178,233.8 182.7,232.2 188,230.4 195,228.2 201.5,226.5 208,224.8 214,223.2 219.7,221.7" fill="none" stroke="#c53537" stroke-width="1.6" stroke-linejoin="round" stroke-linecap="round" />
<polyline points="158.8,244.1 161,242.1 163.8,240.3 168,238.5 173,236.4 178,234.4 182.7,232.8 188,231 195,228.8 201.5,227.1 208,225.4 214,223.8 219.7,222.3" fill="none" stroke="#a31d26" stroke-width="1.3" stroke-linejoin="round" stroke-linecap="round" />
<rect x="31.5" y="220.7" width="188.8" height="151.3" fill="none" stroke="#3a3a3a" stroke-width="1"/>
<line x1="49.9" y1="372" x2="49.9" y2="369" stroke="#3a3a3a" stroke-width="0.9" />
<line x1="49.9" y1="220.7" x2="49.9" y2="223.7" stroke="#3a3a3a" stroke-width="0.9" />
<text x="49.9" y="382" font-size="8.3" text-anchor="middle" font-weight="normal" font-style="normal" fill="#231f20" >15</text>
<line x1="78.3" y1="372" x2="78.3" y2="369" stroke="#3a3a3a" stroke-width="0.9" />
<line x1="78.3" y1="220.7" x2="78.3" y2="223.7" stroke="#3a3a3a" stroke-width="0.9" />
<text x="78.3" y="382" font-size="8.3" text-anchor="middle" font-weight="normal" font-style="normal" fill="#231f20" >20</text>
<line x1="106.7" y1="372" x2="106.7" y2="369" stroke="#3a3a3a" stroke-width="0.9" />
<line x1="106.7" y1="220.7" x2="106.7" y2="223.7" stroke="#3a3a3a" stroke-width="0.9" />
<text x="106.7" y="382" font-size="8.3" text-anchor="middle" font-weight="normal" font-style="normal" fill="#231f20" >25</text>
<line x1="135.1" y1="372" x2="135.1" y2="369" stroke="#3a3a3a" stroke-width="0.9" />
<line x1="135.1" y1="220.7" x2="135.1" y2="223.7" stroke="#3a3a3a" stroke-width="0.9" />
<text x="135.1" y="382" font-size="8.3" text-anchor="middle" font-weight="normal" font-style="normal" fill="#231f20" >30</text>
<line x1="163.5" y1="372" x2="163.5" y2="369" stroke="#3a3a3a" stroke-width="0.9" />
<line x1="163.5" y1="220.7" x2="163.5" y2="223.7" stroke="#3a3a3a" stroke-width="0.9" />
<text x="163.5" y="382" font-size="8.3" text-anchor="middle" font-weight="normal" font-style="normal" fill="#231f20" >35</text>
<line x1="191.9" y1="372" x2="191.9" y2="369" stroke="#3a3a3a" stroke-width="0.9" />
<line x1="191.9" y1="220.7" x2="191.9" y2="223.7" stroke="#3a3a3a" stroke-width="0.9" />
<text x="191.9" y="382" font-size="8.3" text-anchor="middle" font-weight="normal" font-style="normal" fill="#231f20" >40</text>
<line x1="220.3" y1="372" x2="220.3" y2="369" stroke="#3a3a3a" stroke-width="0.9" />
<line x1="220.3" y1="220.7" x2="220.3" y2="223.7" stroke="#3a3a3a" stroke-width="0.9" />
<text x="220.3" y="382" font-size="8.3" text-anchor="middle" font-weight="normal" font-style="normal" fill="#231f20" >45</text>
<line x1="35.7" y1="372" x2="35.7" y2="370.4" stroke="#3a3a3a" stroke-width="0.9" />
<line x1="35.7" y1="220.7" x2="35.7" y2="222.3" stroke="#3a3a3a" stroke-width="0.9" />
<line x1="64.1" y1="372" x2="64.1" y2="370.4" stroke="#3a3a3a" stroke-width="0.9" />
<line x1="64.1" y1="220.7" x2="64.1" y2="222.3" stroke="#3a3a3a" stroke-width="0.9" />
<line x1="92.5" y1="372" x2="92.5" y2="370.4" stroke="#3a3a3a" stroke-width="0.9" />
<line x1="92.5" y1="220.7" x2="92.5" y2="222.3" stroke="#3a3a3a" stroke-width="0.9" />
<line x1="120.9" y1="372" x2="120.9" y2="370.4" stroke="#3a3a3a" stroke-width="0.9" />
<line x1="120.9" y1="220.7" x2="120.9" y2="222.3" stroke="#3a3a3a" stroke-width="0.9" />
<line x1="149.3" y1="372" x2="149.3" y2="370.4" stroke="#3a3a3a" stroke-width="0.9" />
<line x1="149.3" y1="220.7" x2="149.3" y2="222.3" stroke="#3a3a3a" stroke-width="0.9" />
<line x1="177.7" y1="372" x2="177.7" y2="370.4" stroke="#3a3a3a" stroke-width="0.9" />
<line x1="177.7" y1="220.7" x2="177.7" y2="222.3" stroke="#3a3a3a" stroke-width="0.9" />
<line x1="206.1" y1="372" x2="206.1" y2="370.4" stroke="#3a3a3a" stroke-width="0.9" />
<line x1="206.1" y1="220.7" x2="206.1" y2="222.3" stroke="#3a3a3a" stroke-width="0.9" />
<line x1="31.5" y1="372" x2="34.5" y2="372" stroke="#3a3a3a" stroke-width="0.9" />
<line x1="220.3" y1="372" x2="217.3" y2="372" stroke="#3a3a3a" stroke-width="0.9" />
<text x="28.2" y="374.7" font-size="8.3" text-anchor="end" font-weight="normal" font-style="normal" fill="#231f20" >0.001</text>
<line x1="31.5" y1="360.61" x2="33.1" y2="360.61" stroke="#3a3a3a" stroke-width="0.9" />
<line x1="220.3" y1="360.61" x2="218.7" y2="360.61" stroke="#3a3a3a" stroke-width="0.9" />
<line x1="31.5" y1="353.95" x2="33.1" y2="353.95" stroke="#3a3a3a" stroke-width="0.9" />
<line x1="220.3" y1="353.95" x2="218.7" y2="353.95" stroke="#3a3a3a" stroke-width="0.9" />
<line x1="31.5" y1="349.22" x2="33.1" y2="349.22" stroke="#3a3a3a" stroke-width="0.9" />
<line x1="220.3" y1="349.22" x2="218.7" y2="349.22" stroke="#3a3a3a" stroke-width="0.9" />
<line x1="31.5" y1="345.56" x2="33.1" y2="345.56" stroke="#3a3a3a" stroke-width="0.9" />
<line x1="220.3" y1="345.56" x2="218.7" y2="345.56" stroke="#3a3a3a" stroke-width="0.9" />
<line x1="31.5" y1="342.56" x2="33.1" y2="342.56" stroke="#3a3a3a" stroke-width="0.9" />
<line x1="220.3" y1="342.56" x2="218.7" y2="342.56" stroke="#3a3a3a" stroke-width="0.9" />
<line x1="31.5" y1="340.03" x2="33.1" y2="340.03" stroke="#3a3a3a" stroke-width="0.9" />
<line x1="220.3" y1="340.03" x2="218.7" y2="340.03" stroke="#3a3a3a" stroke-width="0.9" />
<line x1="31.5" y1="337.84" x2="33.1" y2="337.84" stroke="#3a3a3a" stroke-width="0.9" />
<line x1="220.3" y1="337.84" x2="218.7" y2="337.84" stroke="#3a3a3a" stroke-width="0.9" />
<line x1="31.5" y1="335.9" x2="33.1" y2="335.9" stroke="#3a3a3a" stroke-width="0.9" />
<line x1="220.3" y1="335.9" x2="218.7" y2="335.9" stroke="#3a3a3a" stroke-width="0.9" />
<line x1="31.5" y1="334.17" x2="34.5" y2="334.17" stroke="#3a3a3a" stroke-width="0.9" />
<line x1="220.3" y1="334.17" x2="217.3" y2="334.17" stroke="#3a3a3a" stroke-width="0.9" />
<text x="28.2" y="336.87" font-size="8.3" text-anchor="end" font-weight="normal" font-style="normal" fill="#231f20" >0.01</text>
<line x1="31.5" y1="322.78" x2="33.1" y2="322.78" stroke="#3a3a3a" stroke-width="0.9" />
<line x1="220.3" y1="322.78" x2="218.7" y2="322.78" stroke="#3a3a3a" stroke-width="0.9" />
<line x1="31.5" y1="316.12" x2="33.1" y2="316.12" stroke="#3a3a3a" stroke-width="0.9" />
<line x1="220.3" y1="316.12" x2="218.7" y2="316.12" stroke="#3a3a3a" stroke-width="0.9" />
<line x1="31.5" y1="311.39" x2="33.1" y2="311.39" stroke="#3a3a3a" stroke-width="0.9" />
<line x1="220.3" y1="311.39" x2="218.7" y2="311.39" stroke="#3a3a3a" stroke-width="0.9" />
<line x1="31.5" y1="307.73" x2="33.1" y2="307.73" stroke="#3a3a3a" stroke-width="0.9" />
<line x1="220.3" y1="307.73" x2="218.7" y2="307.73" stroke="#3a3a3a" stroke-width="0.9" />
<line x1="31.5" y1="304.73" x2="33.1" y2="304.73" stroke="#3a3a3a" stroke-width="0.9" />
<line x1="220.3" y1="304.73" x2="218.7" y2="304.73" stroke="#3a3a3a" stroke-width="0.9" />
<line x1="31.5" y1="302.2" x2="33.1" y2="302.2" stroke="#3a3a3a" stroke-width="0.9" />
<line x1="220.3" y1="302.2" x2="218.7" y2="302.2" stroke="#3a3a3a" stroke-width="0.9" />
<line x1="31.5" y1="300.01" x2="33.1" y2="300.01" stroke="#3a3a3a" stroke-width="0.9" />
<line x1="220.3" y1="300.01" x2="218.7" y2="300.01" stroke="#3a3a3a" stroke-width="0.9" />
<line x1="31.5" y1="298.07" x2="33.1" y2="298.07" stroke="#3a3a3a" stroke-width="0.9" />
<line x1="220.3" y1="298.07" x2="218.7" y2="298.07" stroke="#3a3a3a" stroke-width="0.9" />
<line x1="31.5" y1="296.34" x2="34.5" y2="296.34" stroke="#3a3a3a" stroke-width="0.9" />
<line x1="220.3" y1="296.34" x2="217.3" y2="296.34" stroke="#3a3a3a" stroke-width="0.9" />
<text x="28.2" y="299.04" font-size="8.3" text-anchor="end" font-weight="normal" font-style="normal" fill="#231f20" >0.1</text>
<line x1="31.5" y1="284.95" x2="33.1" y2="284.95" stroke="#3a3a3a" stroke-width="0.9" />
<line x1="220.3" y1="284.95" x2="218.7" y2="284.95" stroke="#3a3a3a" stroke-width="0.9" />
<line x1="31.5" y1="278.29" x2="33.1" y2="278.29" stroke="#3a3a3a" stroke-width="0.9" />
<line x1="220.3" y1="278.29" x2="218.7" y2="278.29" stroke="#3a3a3a" stroke-width="0.9" />
<line x1="31.5" y1="273.56" x2="33.1" y2="273.56" stroke="#3a3a3a" stroke-width="0.9" />
<line x1="220.3" y1="273.56" x2="218.7" y2="273.56" stroke="#3a3a3a" stroke-width="0.9" />
<line x1="31.5" y1="269.9" x2="33.1" y2="269.9" stroke="#3a3a3a" stroke-width="0.9" />
<line x1="220.3" y1="269.9" x2="218.7" y2="269.9" stroke="#3a3a3a" stroke-width="0.9" />
<line x1="31.5" y1="266.9" x2="33.1" y2="266.9" stroke="#3a3a3a" stroke-width="0.9" />
<line x1="220.3" y1="266.9" x2="218.7" y2="266.9" stroke="#3a3a3a" stroke-width="0.9" />
<line x1="31.5" y1="264.37" x2="33.1" y2="264.37" stroke="#3a3a3a" stroke-width="0.9" />
<line x1="220.3" y1="264.37" x2="218.7" y2="264.37" stroke="#3a3a3a" stroke-width="0.9" />
<line x1="31.5" y1="262.18" x2="33.1" y2="262.18" stroke="#3a3a3a" stroke-width="0.9" />
<line x1="220.3" y1="262.18" x2="218.7" y2="262.18" stroke="#3a3a3a" stroke-width="0.9" />
<line x1="31.5" y1="260.24" x2="33.1" y2="260.24" stroke="#3a3a3a" stroke-width="0.9" />
<line x1="220.3" y1="260.24" x2="218.7" y2="260.24" stroke="#3a3a3a" stroke-width="0.9" />
<line x1="31.5" y1="258.51" x2="34.5" y2="258.51" stroke="#3a3a3a" stroke-width="0.9" />
<line x1="220.3" y1="258.51" x2="217.3" y2="258.51" stroke="#3a3a3a" stroke-width="0.9" />
<text x="28.2" y="261.21" font-size="8.3" text-anchor="end" font-weight="normal" font-style="normal" fill="#231f20" >1</text>
<line x1="31.5" y1="247.12" x2="33.1" y2="247.12" stroke="#3a3a3a" stroke-width="0.9" />
<line x1="220.3" y1="247.12" x2="218.7" y2="247.12" stroke="#3a3a3a" stroke-width="0.9" />
<line x1="31.5" y1="240.46" x2="33.1" y2="240.46" stroke="#3a3a3a" stroke-width="0.9" />
<line x1="220.3" y1="240.46" x2="218.7" y2="240.46" stroke="#3a3a3a" stroke-width="0.9" />
<line x1="31.5" y1="235.73" x2="33.1" y2="235.73" stroke="#3a3a3a" stroke-width="0.9" />
<line x1="220.3" y1="235.73" x2="218.7" y2="235.73" stroke="#3a3a3a" stroke-width="0.9" />
<line x1="31.5" y1="232.07" x2="33.1" y2="232.07" stroke="#3a3a3a" stroke-width="0.9" />
<line x1="220.3" y1="232.07" x2="218.7" y2="232.07" stroke="#3a3a3a" stroke-width="0.9" />
<line x1="31.5" y1="229.07" x2="33.1" y2="229.07" stroke="#3a3a3a" stroke-width="0.9" />
<line x1="220.3" y1="229.07" x2="218.7" y2="229.07" stroke="#3a3a3a" stroke-width="0.9" />
<line x1="31.5" y1="226.54" x2="33.1" y2="226.54" stroke="#3a3a3a" stroke-width="0.9" />
<line x1="220.3" y1="226.54" x2="218.7" y2="226.54" stroke="#3a3a3a" stroke-width="0.9" />
<line x1="31.5" y1="224.35" x2="33.1" y2="224.35" stroke="#3a3a3a" stroke-width="0.9" />
<line x1="220.3" y1="224.35" x2="218.7" y2="224.35" stroke="#3a3a3a" stroke-width="0.9" />
<line x1="31.5" y1="222.41" x2="33.1" y2="222.41" stroke="#3a3a3a" stroke-width="0.9" />
<line x1="220.3" y1="222.41" x2="218.7" y2="222.41" stroke="#3a3a3a" stroke-width="0.9" />
<line x1="31.5" y1="220.68" x2="34.5" y2="220.68" stroke="#3a3a3a" stroke-width="0.9" />
<line x1="220.3" y1="220.68" x2="217.3" y2="220.68" stroke="#3a3a3a" stroke-width="0.9" />
<text x="28.2" y="223.38" font-size="8.3" text-anchor="end" font-weight="normal" font-style="normal" fill="#231f20" >10</text>
<text x="126.58" y="395.7" font-size="9.2" text-anchor="middle" font-weight="normal" font-style="normal" fill="#231f20" ><tspan font-style="italic">H</tspan> (T)</text>
<text transform="translate(7.1,297) rotate(-90)" font-size="9.4" text-anchor="middle" fill="#231f20"><tspan font-style="italic">V</tspan><tspan font-size="6" dy="1.6">ac</tspan><tspan dy="-1.6">/</tspan><tspan font-style="italic">I</tspan><tspan font-size="6" dy="1.6">ac</tspan><tspan dy="-1.6"> (Ω)</tspan></text>
<line x1="159" y1="324.4" x2="174" y2="324.4" stroke="#a31d26" stroke-width="1.6" />
<text x="175.5" y="326.6" font-size="6.3" text-anchor="start" font-weight="normal" font-style="normal" fill="#231f20" >0.34 kA·cm<tspan font-size="4.4" dy="-2.6">−2</tspan></text>
<line x1="159" y1="333.27" x2="174" y2="333.27" stroke="#c53537" stroke-width="1.6" />
<text x="175.5" y="335.47" font-size="6.3" text-anchor="start" font-weight="normal" font-style="normal" fill="#231f20" >0.27 kA·cm<tspan font-size="4.4" dy="-2.6">−2</tspan></text>
<line x1="159" y1="342.14" x2="174" y2="342.14" stroke="#dc6c53" stroke-width="1.6" />
<text x="175.5" y="344.34" font-size="6.3" text-anchor="start" font-weight="normal" font-style="normal" fill="#231f20" >0.20 kA·cm<tspan font-size="4.4" dy="-2.6">−2</tspan></text>
<line x1="159" y1="351.01" x2="174" y2="351.01" stroke="#eea172" stroke-width="1.6" />
<text x="175.5" y="353.21" font-size="6.3" text-anchor="start" font-weight="normal" font-style="normal" fill="#231f20" >0.14 kA·cm<tspan font-size="4.4" dy="-2.6">−2</tspan></text>
<line x1="159" y1="359.88" x2="174" y2="359.88" stroke="#f9cc8e" stroke-width="1.6" />
<text x="175.5" y="362.08" font-size="6.3" text-anchor="start" font-weight="normal" font-style="normal" fill="#231f20" >0.01 kA·cm<tspan font-size="4.4" dy="-2.6">−2</tspan></text>
<text x="236.4" y="212.8" font-size="13.2" text-anchor="start" font-weight="normal" font-style="normal" fill="#231f20" >d</text>
<text x="257.4" y="215.8" font-size="9" text-anchor="start" font-weight="bold" font-style="normal" fill="#231f20" >H || b, J || c</text>
<rect x="256.7" y="220.7" width="90.2" height="151.2" fill="#d5e8cf" />
<rect x="346.9" y="220.7" width="45.1" height="151.2" fill="url(#gb)" />
<rect x="346.9" y="220.7" width="45.1" height="151.2" fill="url(#stip)" />
<rect x="392" y="220.7" width="53.5" height="151.2" fill="#cbe6f7" />
<text x="267.4" y="327.9" font-size="8.7" text-anchor="start" font-weight="normal" font-style="normal" fill="#2e9e52" >SC1</text>
<text x="423.3" y="329.4" font-size="8.7" text-anchor="start" font-weight="normal" font-style="normal" fill="#3b57b4" >SC2</text>
<line x1="346.9" y1="220.7" x2="346.9" y2="371.9" stroke="#666666" stroke-width="1.0" stroke-dasharray="0.9 2.3"/>
<line x1="392" y1="220.7" x2="392" y2="371.9" stroke="#555555" stroke-width="1.2" stroke-dasharray="2.8 2.5"/>
<text x="392" y="238.6" font-size="9.5" text-anchor="start" font-weight="normal" font-style="normal" fill="#231f20" ><tspan font-style="italic">H</tspan><tspan font-size="6" dy="-3.5">*</tspan></text>
<polyline points="256.5,371.8 257.41,371.9 258.31,372 259.22,372.04 260.12,372.17 261.03,371.98 261.93,372.13 262.84,371.32 263.74,371.7 264.65,372.13 265.55,371.85 266.46,372.07 267.36,371.35 268.27,371.67 269.18,371.46 270.08,371.72 270.99,371.74 271.89,371.22 272.8,371.4 273.7,371.45 274.61,372.01 275.51,371.87 276.42,371.32 277.32,371.88 278.23,371.28 279.14,371.7 280.04,371.25 280.95,371.13 281.85,371.91 282.76,371.3 283.66,371.3 284.57,371.98 285.47,371.88 286.38,371.34 287.28,371.94 288.19,371.55 289.09,371.67 290,371.5 290.96,371.16 291.91,371.74 292.87,371.44 293.83,371.61 294.79,371.46 295.74,370.85 296.7,370.83 297.66,370.57 298.61,370.47 299.57,370.32 300.53,370.46 301.49,370.65 302.44,370.03 303.4,370.4 304.34,370.33 305.29,369.8 306.23,369.54 307.17,369.77 308.11,369.24 309.06,368.86 310,368.8 310.97,368.37 311.93,368.15 312.9,367.15 313.87,367.56 314.83,366.29 315.8,366.3 316.85,365.82 317.9,365.21 318.95,363.77 320,363.5 321,362.91 322,361.68 323,361.02 324,360.1 325.1,357.79 326.2,355.96 327.3,354.5 328.27,351.95 329.23,350.38 330.2,347.7 331.13,345.19 332.07,343.46 333,341 334,339.05 335,336.73 336,334 337,331.49 338,329.14 339,326.9 340.15,324.47 341.3,322 342.45,320.2 343.6,317.9 344.5,316.63 345.4,316.28 346.3,315.41 347.2,314.54 348.1,313.3 349,312.66 349.9,313.26 350.8,312.27 351.7,312.28 352.6,312.2 353.5,312.9 354.4,313.78 355.3,313.86 356.2,314.98 357.1,315.2 358.02,314.64 358.94,313.83 359.86,313.24 360.78,312.51 361.7,312.2 362.6,310.46 363.5,309.16 364.4,308.29 365.3,307.21 366.2,305.4 367.17,304.3 368.14,303.39 369.11,303.44 370.09,302.23 371.06,301.32 372.03,300.36 373,299.8 373.97,299.4 374.94,299.12 375.91,298.3 376.89,297.79 377.86,296.97 378.83,297.26 379.8,296.4 380.77,295.75 381.74,295.94 382.71,296.02 383.69,295.15 384.66,295.47 385.63,295.43 386.6,294.8 387.56,294.97 388.51,295.17 389.47,294.62 390.43,294.97 391.39,294.77 392.34,295.45 393.3,295.2 394.27,295.5 395.24,296.13 396.21,297.11 397.19,297.46 398.16,298.06 399.13,298.07 400.1,298.6 401.1,299.24 402.1,300.11 403.1,300.53 404.1,301.2 405.08,301.17 406.06,301.43 407.04,301.36 408.02,301.73 409,302 410.04,302.5 411.08,302.53 412.12,302.29 413.16,302.24 414.2,302.3 415.17,302.6 416.13,302.83 417.1,303.45 418.07,304.35 419.03,304.88 420,305 421,305.38 422,306.26 423,306.75 424,307.18 425,307.5 426.06,308.21 427.12,308.85 428.18,309.06 429.24,309.92 430.3,310.3 431.24,310.74 432.18,311.57 433.12,312.46 434.06,313.03 435,313.5 436,314.11 437,315.5 438,316.03 439,316.77 440,317.5 441.1,318.04 442.2,319.49 443.3,320.2 444.4,321.4 445.5,322.5" fill="none" stroke="#f9cc8e" stroke-width="1.5" stroke-linejoin="round" stroke-linecap="round" />
<polyline points="256.5,371.7 257.4,371.45 258.31,371.31 259.21,371.56 260.12,371.33 261.02,371.23 261.92,371.52 262.83,371.97 263.73,371.85 264.63,371.8 265.54,371.3 266.44,371.56 267.35,371.31 268.25,371.21 269.15,371.13 270.06,371.21 270.96,371.84 271.87,371.73 272.77,371.7 273.67,371.68 274.58,371.12 275.48,371.21 276.38,371.48 277.29,371.55 278.19,371.65 279.1,371.66 280,371.3 280.91,370.83 281.81,371.2 282.72,371.15 283.62,370.91 284.53,370.51 285.43,370.68 286.34,370.23 287.24,370.89 288.15,370.73 289.05,370.34 289.96,370.02 290.86,370.47 291.77,370.07 292.67,370.24 293.58,370.11 294.48,369.71 295.39,369.52 296.29,369.59 297.2,369.4 298.26,369.1 299.32,368.62 300.38,368.5 301.44,368.72 302.5,368.2 303.5,367.41 304.5,367.03 305.5,367.17 306.5,366.48 307.5,366.3 308.4,365.77 309.3,365.15 310.2,364.48 311.1,364.51 312,363.5 312.95,362.38 313.9,361.72 314.85,360.68 315.8,360.1 316.87,358.69 317.93,356.83 319,355.5 320,353.47 321,351.92 322,349.8 323.07,347.21 324.13,344.99 325.2,342.5 326.2,340.5 327.2,337.41 328.2,335.4 329.1,332.56 330,330.5 331.25,326.76 332.5,323.5 333.48,321.91 334.45,319.95 335.42,317.79 336.4,316.2 337.3,314.87 338.2,313.56 339.1,312.64 340,311.5 340.9,310.14 341.8,309.78 342.7,309.01 343.6,307.7 344.5,307.43 345.4,306.55 346.3,306.07 347.2,304.55 348.1,304.3 349.07,303.72 350.04,303.95 351.01,303.39 351.99,302.68 352.96,302.77 353.93,302.09 354.9,301.6 355.8,301.37 356.7,300.37 357.6,299.76 358.5,299.47 359.4,298.67 360.3,298.37 361.2,298.38 362.1,297.29 363,296.48 363.9,296.4 364.81,295.54 365.72,295.2 366.63,295.31 367.54,294.48 368.45,293.96 369.36,293.34 370.27,293.68 371.18,292.73 372.09,292.09 373,291.9 373.9,291.04 374.8,290.58 375.7,290.22 376.6,290.22 377.5,289.28 378.4,288.73 379.3,288.67 380.2,287.99 381.1,288.21 382,287.3 383,286.4 384,286.2 385,285.86 386,284.97 387,284.93 388,283.9 389,283.13 390,282.8 391.1,280.82 392.2,278.58 393.3,277.1 394.43,275.16 395.57,273.14 396.7,271.5 397.83,271.85 398.97,271.8 400.1,271.5 401.08,271.8 402.06,271.68 403.04,272.18 404.02,272.47 405,273 406.04,272.88 407.08,273.04 408.12,273.75 409.16,273.24 410.2,273.7 411.24,273.36 412.28,274.21 413.32,273.94 414.36,274.38 415.4,274 416.34,273.94 417.29,274.42 418.23,274.22 419.17,274.38 420.11,274.36 421.06,274.17 422,274.2 422.92,273.93 423.84,274.14 424.77,274.84 425.69,274.96 426.61,275.08 427.53,274.65 428.46,275.04 429.38,275.27 430.3,275.1 431.25,275.54 432.2,276.02 433.15,276.08 434.1,276.51 435.05,276.85 436,277 437,277.29 438,278.38 439,278.91 440,278.62 441,279.5 441.9,280.44 442.8,280.96 443.7,281.21 444.6,281.17 445.5,282.1" fill="none" stroke="#eea172" stroke-width="1.5" stroke-linejoin="round" stroke-linecap="round" />
<polyline points="256.5,371.5 257.41,371.21 258.33,371.44 259.24,371.23 260.15,371.39 261.07,371.36 261.98,370.81 262.9,370.71 263.81,371.4 264.72,370.83 265.64,370.76 266.55,371.4 267.46,370.87 268.38,371.15 269.29,370.78 270.2,370.88 271.12,370.39 272.03,370.77 272.95,370.93 273.86,370.57 274.77,370.72 275.69,370.6 276.6,370.4 277.68,369.77 278.76,370.15 279.84,369.76 280.92,369.26 282,369.2 282.98,368.4 283.96,368.77 284.94,368.04 285.92,367.88 286.9,367.3 287.82,367.22 288.74,366.65 289.66,366.42 290.58,365.53 291.5,365.2 292.43,364.72 293.35,363.65 294.27,363.34 295.2,362.2 296.3,361.31 297.4,359.37 298.5,358.5 299.47,356.64 300.43,355.18 301.4,353.9 302.43,352.19 303.47,349.58 304.5,347.5 305.5,345.61 306.5,343.32 307.5,341.5 308.5,339.67 309.5,337.73 310.5,336 311.57,334.27 312.63,332.88 313.7,331.2 314.77,329.88 315.85,328.76 316.93,327.16 318,325.6 319,324.81 320,323.57 321,322.52 322,320.9 323,319.95 324,318.4 325,317.92 326,316.5 327,315.74 328,314.51 329,313.04 330,311.8 330.97,311.08 331.94,309.71 332.91,309.36 333.89,308.21 334.86,307.04 335.83,305.92 336.8,305.4 337.77,304.75 338.74,303.9 339.71,302.12 340.69,301.78 341.66,300.46 342.63,299.26 343.6,298.6 344.57,297.93 345.54,297.87 346.51,297.48 347.49,296.25 348.46,296.27 349.43,295.28 350.4,295.2 351.36,294.75 352.31,293.76 353.27,293.61 354.23,293.06 355.19,291.99 356.14,291.79 357.1,290.7 358.01,290.08 358.92,289.42 359.83,289.44 360.74,288.48 361.65,288.18 362.56,287.92 363.47,287.65 364.38,286.79 365.29,286.24 366.2,286.2 367.1,286.08 368,285.13 368.9,285.26 369.8,284.76 370.7,283.84 371.6,283.46 372.5,283.07 373.4,282.73 374.3,282.24 375.2,281.7 376.11,281.29 377.02,280.89 377.93,280.72 378.84,279.87 379.75,279.34 380.66,279.14 381.57,278.24 382.48,277.84 383.39,277.99 384.3,277.1 385.25,276.57 386.2,276.04 387.15,275.01 388.1,274.82 389.05,274.42 390,273.8 391.1,269.97 392.2,267 393.35,264.85 394.5,262.5 395.6,260.87 396.7,259 397.83,257.87 398.97,257.65 400.1,256.8 401.08,256.51 402.06,256.44 403.04,255.89 404.02,255.95 405,255.5 406.02,255.45 407.04,254.55 408.06,254.32 409.08,254.62 410.1,254.2 411.08,254.3 412.06,253.34 413.04,253.2 414.02,253 415,252.6 416,252.14 417,251.88 418,251.53 419,251.28 420,251.1 420.95,250.87 421.91,250.28 422.86,250.03 423.82,250.07 424.77,249.08 425.73,249.25 426.68,249.08 427.64,248.38 428.59,247.99 429.55,248.19 430.5,247.6 431.44,247.19 432.38,246.97 433.31,247.02 434.25,247.08 435.19,246.37 436.12,246.39 437.06,246.23 438,246.2 438.94,246.36 439.88,245.87 440.81,246.11 441.75,245.35 442.69,245.37 443.62,245.51 444.56,245.58 445.5,245.1" fill="none" stroke="#dc6c53" stroke-width="1.5" stroke-linejoin="round" stroke-linecap="round" />
<polyline points="256.5,371.3 257.4,371.49 258.3,371.25 259.2,370.23 260.1,370.4 261.08,369.88 262.05,370.4 263.02,370.16 264,369.8 265.1,369.6 266.2,368.93 267.3,368.85 268.4,368.4 269.42,367.6 270.45,366.67 271.48,365.39 272.5,364.8 273.52,363.56 274.55,362.35 275.58,361.48 276.6,360.1 277.63,359.18 278.67,357.77 279.7,356.04 280.73,354.58 281.77,353.06 282.8,351.9 283.83,350.1 284.87,348.71 285.9,347.72 286.93,346.2 287.97,344.88 289,343.6 290.03,342.92 291.07,341.56 292.1,340.55 293.13,339.23 294.17,338 295.2,337.4 296.11,336.44 297.02,335.47 297.93,335.01 298.84,334.65 299.76,333.56 300.67,332.31 301.58,332.15 302.49,331.27 303.4,330.2 304.32,329.61 305.24,328.97 306.17,328.04 307.09,327.26 308.01,326.07 308.93,325.83 309.86,325.02 310.78,323.5 311.7,323 312.61,322.43 313.52,321.59 314.43,320.57 315.34,319.83 316.26,318.99 317.17,318.58 318.08,317.4 318.99,316.9 319.9,315.8 320.82,314.87 321.74,314.54 322.67,313.76 323.59,312.56 324.51,311.86 325.43,311.38 326.36,310.4 327.28,309.39 328.2,308.6 329.1,307.45 330,306.8 330.97,305.8 331.94,305.29 332.91,303.97 333.89,303.8 334.86,302.38 335.83,302.11 336.8,300.9 337.77,299.91 338.74,299.68 339.71,298.64 340.69,297.65 341.66,296.84 342.63,296.15 343.6,295.2 344.5,295.2 345.4,294.87 346.3,294.7 347.2,294.89 348.1,294.8 349,294.15 349.9,292.83 350.8,291.3 351.7,290.93 352.6,289.6 353.57,288.99 354.54,288.34 355.51,286.88 356.49,286.56 357.46,285.13 358.43,284.85 359.4,283.9 360.37,283.31 361.34,282.88 362.31,283.08 363.29,282 364.26,281.99 365.23,281.9 366.2,281.2 367.17,280.38 368.14,279.77 369.11,279.79 370.09,278.79 371.06,278.47 372.03,277.26 373,277.1 373.97,276.5 374.94,275.86 375.91,275.84 376.89,274.84 377.86,275.15 378.83,273.84 379.8,273.8 380.79,273.43 381.77,272.22 382.76,271.86 383.75,271.78 384.74,270.62 385.73,270.07 386.71,269.95 387.7,269.2 388.85,268.55 390,268.1 391.2,262 392,256.7 393.25,253.94 394.5,252 395.8,250.99 397.1,249.1 398.07,249.09 399.03,249.28 400,250 401.03,250.23 402.07,250.84 403.1,251.1 404.1,250.82 405.1,249.75 406.1,249.45 407.1,249.1 408.08,248.08 409.07,247.85 410.05,247.54 411.03,246.92 412.02,246.46 413,245.5 414,245.23 415,244.83 416,244.18 417,243.48 418,242.75 419,242.64 420,242 420.95,241.47 421.91,240.91 422.86,240.86 423.82,240.88 424.77,239.85 425.73,239.89 426.68,239.36 427.64,239.1 428.59,238.41 429.55,238.78 430.5,238 431.44,237.35 432.38,237.22 433.31,236.62 434.25,235.82 435.19,235.86 436.12,235.05 437.06,234.54 438,234.5 438.94,233.59 439.88,233.22 440.81,232.67 441.75,232.67 442.69,232.07 443.62,232.01 444.56,231.48 445.5,230.6" fill="none" stroke="#c53537" stroke-width="1.5" stroke-linejoin="round" stroke-linecap="round" />
<polyline points="256.5,370.5 257.75,367.67 259,365.5 260.07,364.01 261.13,362.14 262.2,360.1 263.23,358.45 264.27,357.23 265.3,355.8 266.33,354.45 267.37,353.34 268.4,351.9 269.43,350.86 270.47,348.93 271.5,348 272.53,346.44 273.57,346.04 274.6,344.6 275.58,343.59 276.55,342.94 277.52,341.3 278.5,340.8 279.57,340 280.65,339.5 281.73,338.31 282.8,337.8 283.71,337.7 284.62,337.16 285.53,335.88 286.44,335.37 287.36,335.34 288.27,335.2 289.18,334.19 290.09,333.54 291,333.3 291.92,332.65 292.84,331.72 293.77,331.32 294.69,330.93 295.61,330.41 296.53,329.59 297.46,329.01 298.38,328.42 299.3,328.1 300.21,327.39 301.12,326.56 302.03,325.64 302.94,325.69 303.86,324.76 304.77,324.16 305.68,323.07 306.59,323.12 307.5,322 308.45,321.57 309.39,320.15 310.34,319.59 311.28,319.18 312.23,318.42 313.17,317.87 314.12,316.65 315.06,316.26 316.01,315.36 316.95,314.28 317.9,313.7 318.81,313.09 319.72,312.67 320.63,311.94 321.54,310.95 322.46,310.34 323.37,309.15 324.28,308.65 325.19,308.46 326.1,307.5 327.08,306.25 328.05,304.86 329.02,304.02 330,302.8 330.97,302.23 331.94,301.44 332.91,300.42 333.89,299.72 334.86,299.02 335.83,298.51 336.8,297.5 337.77,296.8 338.74,295.98 339.71,295.35 340.69,294.22 341.66,293.52 342.63,293.4 343.6,292.5 344.73,293.1 345.87,292.92 347,293 348.13,291.77 349.27,290.44 350.4,289.6 351.3,288.92 352.2,288.67 353.1,287.8 354,286.92 354.9,286.2 355.87,285.71 356.84,284.33 357.81,283.77 358.79,283.35 359.76,282.2 360.73,281.28 361.7,280.5 362.6,280.07 363.5,280.1 364.4,280.25 365.3,279.18 366.2,279.4 367.17,279.01 368.14,278.4 369.11,277.82 370.09,277.05 371.06,276.46 372.03,275.56 373,274.9 373.97,274.47 374.94,273.86 375.91,273.04 376.89,273.29 377.86,272.53 378.83,271.72 379.8,271.5 380.77,270.69 381.74,269.86 382.71,268.93 383.69,268.1 384.66,267.46 385.63,266.73 386.6,265.8 387.95,262.5 389.3,259 390.5,253 392,250.5 393,249.66 394,248.9 395,247.73 396,247.4 396.9,246.66 397.8,246.4 399.5,246.7 400.55,246.61 401.6,247.1 402.77,246.84 403.93,246.76 405.1,246.1 406.08,245.67 407.06,244.97 408.04,244.28 409.02,243.08 410,242.6 411.08,242.31 412.16,241.56 413.24,240.42 414.32,239.77 415.4,239.6 416.32,238.6 417.24,238.71 418.16,237.69 419.08,237.01 420,236.8 420.95,236.49 421.91,235.82 422.86,235.16 423.82,234.82 424.77,234.73 425.73,233.99 426.68,233.67 427.64,233.64 428.59,233 429.55,232.46 430.5,232.2 431.44,231.71 432.38,230.85 433.31,230.71 434.25,230.28 435.19,229.61 436.12,229.07 437.06,229.32 438,228.5 438.94,228.01 439.88,227.24 440.81,227.1 441.75,226.79 442.69,225.57 443.62,225.07 444.56,224.68 445.5,224.5" fill="none" stroke="#a31d26" stroke-width="1.5" stroke-linejoin="round" stroke-linecap="round" />
<rect x="256.7" y="220.7" width="188.8" height="151.2" fill="none" stroke="#3a3a3a" stroke-width="1"/>
<line x1="302.7" y1="371.9" x2="302.7" y2="368.9" stroke="#3a3a3a" stroke-width="0.9" />
<line x1="302.7" y1="220.7" x2="302.7" y2="223.7" stroke="#3a3a3a" stroke-width="0.9" />
<text x="302.7" y="382" font-size="8.3" text-anchor="middle" font-weight="normal" font-style="normal" fill="#231f20" >15</text>
<line x1="374.1" y1="371.9" x2="374.1" y2="368.9" stroke="#3a3a3a" stroke-width="0.9" />
<line x1="374.1" y1="220.7" x2="374.1" y2="223.7" stroke="#3a3a3a" stroke-width="0.9" />
<text x="374.1" y="382" font-size="8.3" text-anchor="middle" font-weight="normal" font-style="normal" fill="#231f20" >20</text>
<line x1="445.5" y1="371.9" x2="445.5" y2="368.9" stroke="#3a3a3a" stroke-width="0.9" />
<line x1="445.5" y1="220.7" x2="445.5" y2="223.7" stroke="#3a3a3a" stroke-width="0.9" />
<text x="445.5" y="382" font-size="8.3" text-anchor="middle" font-weight="normal" font-style="normal" fill="#231f20" >25</text>
<line x1="267" y1="371.9" x2="267" y2="370.3" stroke="#3a3a3a" stroke-width="0.9" />
<line x1="267" y1="220.7" x2="267" y2="222.3" stroke="#3a3a3a" stroke-width="0.9" />
<line x1="338.4" y1="371.9" x2="338.4" y2="370.3" stroke="#3a3a3a" stroke-width="0.9" />
<line x1="338.4" y1="220.7" x2="338.4" y2="222.3" stroke="#3a3a3a" stroke-width="0.9" />
<line x1="409.8" y1="371.9" x2="409.8" y2="370.3" stroke="#3a3a3a" stroke-width="0.9" />
<line x1="409.8" y1="220.7" x2="409.8" y2="222.3" stroke="#3a3a3a" stroke-width="0.9" />
<line x1="256.7" y1="371.9" x2="259.7" y2="371.9" stroke="#3a3a3a" stroke-width="0.9" />
<line x1="445.5" y1="371.9" x2="442.5" y2="371.9" stroke="#3a3a3a" stroke-width="0.9" />
<text x="253.4" y="374.6" font-size="8.3" text-anchor="end" font-weight="normal" font-style="normal" fill="#231f20" >0</text>
<line x1="256.7" y1="296.3" x2="259.7" y2="296.3" stroke="#3a3a3a" stroke-width="0.9" />
<line x1="445.5" y1="296.3" x2="442.5" y2="296.3" stroke="#3a3a3a" stroke-width="0.9" />
<text x="253.4" y="299" font-size="8.3" text-anchor="end" font-weight="normal" font-style="normal" fill="#231f20" >1</text>
<line x1="256.7" y1="220.7" x2="259.7" y2="220.7" stroke="#3a3a3a" stroke-width="0.9" />
<line x1="445.5" y1="220.7" x2="442.5" y2="220.7" stroke="#3a3a3a" stroke-width="0.9" />
<text x="253.4" y="223.4" font-size="8.3" text-anchor="end" font-weight="normal" font-style="normal" fill="#231f20" >2</text>
<line x1="256.7" y1="334.1" x2="258.3" y2="334.1" stroke="#3a3a3a" stroke-width="0.9" />
<line x1="445.5" y1="334.1" x2="443.9" y2="334.1" stroke="#3a3a3a" stroke-width="0.9" />
<line x1="256.7" y1="258.5" x2="258.3" y2="258.5" stroke="#3a3a3a" stroke-width="0.9" />
<line x1="445.5" y1="258.5" x2="443.9" y2="258.5" stroke="#3a3a3a" stroke-width="0.9" />
<text x="351.25" y="395.7" font-size="9.2" text-anchor="middle" font-weight="normal" font-style="normal" fill="#231f20" ><tspan font-style="italic">H</tspan> (T)</text>
<text transform="translate(245.8,298.3) rotate(-90)" font-size="9.4" text-anchor="middle" fill="#231f20"><tspan font-style="italic">V</tspan><tspan font-size="6" dy="1.6">ac</tspan><tspan dy="-1.6">/</tspan><tspan font-style="italic">I</tspan><tspan font-size="6" dy="1.6">ac</tspan><tspan dy="-1.6"> (Ω)</tspan></text>
<line x1="263.9" y1="228.6" x2="278.9" y2="228.6" stroke="#a31d26" stroke-width="1.6" />
<text x="280.4" y="230.8" font-size="6.3" text-anchor="start" font-weight="normal" font-style="normal" fill="#231f20" >0.34 kA·cm<tspan font-size="4.4" dy="-2.6">−2</tspan></text>
<line x1="263.9" y1="237.5" x2="278.9" y2="237.5" stroke="#c53537" stroke-width="1.6" />
<text x="280.4" y="239.7" font-size="6.3" text-anchor="start" font-weight="normal" font-style="normal" fill="#231f20" >0.27 kA·cm<tspan font-size="4.4" dy="-2.6">−2</tspan></text>
<line x1="263.9" y1="246.4" x2="278.9" y2="246.4" stroke="#dc6c53" stroke-width="1.6" />
<text x="280.4" y="248.6" font-size="6.3" text-anchor="start" font-weight="normal" font-style="normal" fill="#231f20" >0.20 kA·cm<tspan font-size="4.4" dy="-2.6">−2</tspan></text>
<line x1="263.9" y1="255.3" x2="278.9" y2="255.3" stroke="#eea172" stroke-width="1.6" />
<text x="280.4" y="257.5" font-size="6.3" text-anchor="start" font-weight="normal" font-style="normal" fill="#231f20" >0.14 kA·cm<tspan font-size="4.4" dy="-2.6">−2</tspan></text>
<line x1="263.9" y1="264.2" x2="278.9" y2="264.2" stroke="#f9cc8e" stroke-width="1.6" />
<text x="280.4" y="266.4" font-size="6.3" text-anchor="start" font-weight="normal" font-style="normal" fill="#231f20" >0.01 kA·cm<tspan font-size="4.4" dy="-2.6">−2</tspan></text>
<text x="466.4" y="212.8" font-size="13.5" text-anchor="start" font-weight="normal" font-style="normal" fill="#231f20" >e</text>
<text x="492.9" y="215.8" font-size="9" text-anchor="start" font-weight="bold" font-style="normal" fill="#231f20" >H || b, J || a</text>
<rect x="492.1" y="220.6" width="34.8" height="151.5" fill="#d5e8cf" />
<rect x="526.9" y="220.6" width="26.6" height="151.5" fill="url(#gb)" />
<rect x="526.9" y="220.6" width="26.6" height="151.5" fill="url(#stip)" />
<rect x="553.5" y="220.6" width="70.71" height="151.5" fill="#cbe6f7" />
<rect x="624.21" y="220.6" width="56.79" height="151.5" fill="#d3d3ec" />
<text x="501.7" y="285.5" font-size="8.7" text-anchor="start" font-weight="normal" font-style="normal" fill="#2e9e52" >SC1</text>
<text x="573.2" y="275" font-size="8.7" text-anchor="start" font-weight="normal" font-style="normal" fill="#3b57b4" >SC2</text>
<text x="661.5" y="270.6" font-size="8.6" text-anchor="start" font-weight="normal" font-style="normal" fill="#7b3c9b" >FP</text>
<line x1="526.9" y1="220.6" x2="526.9" y2="372.1" stroke="#666666" stroke-width="1.0" stroke-dasharray="0.9 2.3"/>
<line x1="553.5" y1="220.6" x2="553.5" y2="372.1" stroke="#555555" stroke-width="1.2" stroke-dasharray="2.8 2.5"/>
<text x="556.6" y="235.9" font-size="9.5" text-anchor="start" font-weight="normal" font-style="normal" fill="#231f20" ><tspan font-style="italic">H</tspan><tspan font-size="6" dy="-3.5">*</tspan></text>
<polyline points="492.4,318 492.9,350 493.4,326 494,372 494.6,330 495.3,345 495.9,322 496.6,338 497.2,318" fill="none" stroke="#c53537" stroke-width="1.1" stroke-linejoin="round" stroke-linecap="round" />
<polyline points="492.5,335 493.2,372 493.9,340 494.8,360 495.5,333 496.4,352 497.3,330 498.2,348 499,325 500,340 500.8,320" fill="none" stroke="#dc6c53" stroke-width="1.1" stroke-linejoin="round" stroke-linecap="round" />
<polyline points="492.3,344.23 492.8,354.02 493.3,340.88 494.3,340.73 495.3,344.45 496.3,346.5 496.8,352.94 497.3,345.63 497.8,351.44 498.3,342.95 499.3,343.55 500.3,337.92 501.3,336.8 501.8,344.23 502.3,333.3 502.8,341.64 503.3,328.62 504.3,326.97 505.3,320.06 506.3,324.47 507.3,328.37 507.8,333.15 508.3,325.49 509.3,325.5 510.3,322.07 511.3,327.43 511.8,332.01 512.3,325.88 513.3,331.07 514.3,330.23 514.3,330.37 515,364.6 515.7,330.37 515.3,330.43 516.3,332.54 516.8,338.75 517.3,334.11 518.3,330.85 519.3,325.53 519,330.02 519.5,340 520,330.02 519.8,336.75 520.3,326.27 521.3,322.05 522.3,320.98 523.3,321.15 524.3,320.19 524.8,331.3 525.3,322.14 525.8,329.94 526.3,314.3 527.3,311.17 527.8,321.85 527.5,318.18 528,330 528.5,318.18 528.3,312.66 529.3,312.63 530.3,312.55 530.8,316.86 531.3,309.59 532.3,312.98 533.3,313.15 534.3,317.35 535.3,319.05 536.3,324.91 537.3,318.83 537.8,328.05 538.3,315.7 538.3,315.87 538.9,360 539.5,315.87 539.3,315.99 539.8,321.69 540.3,318.55 541.3,318.72 542.3,316.89 542,318.37 542.8,371.5 543.6,318.37 543.3,319.85 544.3,320.14 544.8,325.19 545.3,324.13 545.5,322.54 546,338 546.5,322.54 546.3,321.85 547.3,325.43 548.3,327.69 548.8,332.12 549.3,324.38 550.3,324.7 551.3,326.4 552.3,327.33 552.8,337.51 553.3,325.8 554.3,330.57 555.3,329.98 556.3,329.47 557.3,325.65 558.3,325.9 558.8,333.95 559.3,324.97 559.8,334.52 560.3,325.8 561.3,326.15 562.3,326.51 563.3,325.97 563.8,331.87 564.3,330.09 563.9,334.61 564.5,335 565.1,334.61 564.8,341.39 565.3,327.65 566.3,323.78 567.3,323.88 568.3,327.71 569.3,327.47 570.3,326.5 570.8,337.37 571.3,325 572.3,326.08 573.3,325.79 572.8,326.37 573.6,345.1 574.4,326.37 574.3,327.74 575.3,328.94 576.3,330.16 577.3,328.33 578.3,329.99 578.8,341.54 579.3,325.11 579.2,328.99 580,366 580.8,328.99 580.3,330.65 580.8,339.87 581.3,332.44 582.3,330.51 582.8,337.89 583.3,329.53 584.3,328.17 585.3,328.05 585.7,331.41 586.3,371.5 586.9,331.41 586.3,331.41 586.8,343.02 587.3,331.59 588.3,334.97 589.3,331.8 589.8,337.24 589.5,335.13 590,340 590.5,335.13 590.3,331.95 591.3,331.16 592.3,332.61 593.3,334.81 594.3,332.14 594.4,333.88 595,352.6 595.6,333.88 595.3,334.63 595.8,345.66 596.3,332.6 596.8,341.04 597.3,333.43 597.8,342.57 598.3,331.49 598.8,343.07 599.3,336.44 598.8,336.4 599.4,371.5 600,336.4 600.3,336 601.3,332.92 602.3,333.44 603.3,331.15 604.3,331.83 605.3,335.07 604.6,334.85 605.4,357.7 606.2,334.85 606.3,332.84 607.3,335 608.3,332.49 608.8,337.2 609.3,330.08 610.3,331.43 610.2,331.72 610.8,362.1 611.4,331.72 611.3,332.02 612.3,335.67 612.8,341.28 613.3,332.5 614.3,331.19 614.8,341.54 615.3,334.39 615.8,342.36 616.3,334.06 615.8,334.11 616.4,371.5 617,334.11 617.3,334.59 618.3,335.7 619.3,333.42 620.3,331.89 620.8,341.94 620.5,330 620.8,324 621.4,371.5 622,324 622.3,318 623.5,305 624.8,285 625.6,255 626.2,235 627.2,226 629,223.4 633,222.8 681,221.4" fill="none" stroke="#f9cc8e" stroke-width="1.6" stroke-linejoin="round" stroke-linecap="round" />
<polyline points="492.3,334.27 493.3,337.09 494.3,335.84 495.3,338.31 496.3,336.84 497.3,337.77 496.7,337.68 497.5,352 498.3,337.68 498.3,337.3 499.3,341.49 499.2,340.04 500,354 500.8,340.04 500.3,339.42 501.3,341.8 501.8,347.98 502.3,342 502.8,348.81 503.3,333.44 504.3,327.08 504.8,335.95 505.3,324.78 506.3,321.5 507.3,324.1 508.3,324.19 509.3,329.04 509.8,332.33 510.3,330.6 511.3,327.76 512.3,324.91 513.3,323.19 513.8,331.05 514.3,319.23 515.3,317 516.3,316.92 517.3,317.88 518.3,320.77 519.3,318.28 520.3,316.72 521.3,313.13 522.3,311.66 523.3,313.95 523.8,317.55 524.3,312.43 525.3,308.44 526.3,311.04 527.3,306.92 528.3,307.98 529.3,303.63 529.8,310.29 530.3,304.36 531.3,304.01 531.8,308.68 532.3,307.66 533.3,306.06 534.3,308.91 535.3,310.52 535.8,314.47 536.3,311.92 537.3,312.46 538.3,312.96 539.3,310.58 540.3,312.98 541.3,316.81 542.3,319.28 543.3,320.33 544.3,319.01 545.3,320.39 546.3,320.01 547.3,321.97 547.4,323.4 548,338 548.6,323.4 548.3,324.02 549.3,321.21 550.3,319.63 550.8,326.69 551.3,319.54 552.3,321.3 553.3,321.41 554.3,321.08 555.3,321.19 555.8,325.29 556.3,317.53 557.3,315.75 558.3,316.86 559.3,320.44 560.3,322.65 561.3,319.91 561.8,325.17 562.3,316.82 563.3,318.43 564.3,315 565.3,321.15 566.3,319.08 567.3,321.03 568.3,322.65 568.5,322.21 569,330 569.5,322.21 569.3,322.02 569.8,329.72 570.3,319.41 570.8,324.5 571.3,320.81 571.8,326.35 572.3,321.49 573.3,320.86 574.3,323.55 575.3,324.12 576.3,322.85 577.3,323.21 577.5,324.08 578,332 578.5,324.08 578.3,324.45 579.3,321.82 580.3,319.08 581.3,322.99 581.8,326.55 582.3,325.08 583.3,325.11 584.3,323.89 584.5,322.48 585,333 585.5,322.48 585.3,321.88 586.3,319.59 587.3,322.08 588.3,321.93 589.3,324.99 590.3,321.55 590.8,329.68 591.3,323.19 592.3,324.87 592.8,328.97 593.3,325.43 594.3,329.28 595.3,325.91 596.3,327.18 596.8,334.13 597.3,326.61 596.7,326.67 597.5,341.3 598.3,326.67 598.3,326.9 599.3,324.39 600.3,325.79 601.3,324.35 602.3,327.32 603.3,328.77 602.7,329.25 603.5,345.1 604.3,329.25 604.3,331.17 605.3,329.37 606.3,326.73 606.8,333.45 607.3,323.64 607.4,323.58 608,336 608.6,323.58 608.3,323.56 609.3,327.19 609.8,333.17 610.3,330.6 611.3,332.27 612.3,333.66 611.9,336.75 612.5,338 613.1,336.75 612.8,341.38 613.3,327.38 614.3,326.43 614.8,332.84 615.3,329.87 616.3,327.79 617.3,329.18 618.3,328.26 619.3,329.99 620.3,324.77 621.5,312 623,302 624.3,285 625.2,255 625.8,235 626.8,226 628.5,223.3 632,222.7 681,221.3" fill="none" stroke="#eea172" stroke-width="1.6" stroke-linejoin="round" stroke-linecap="round" />
<polyline points="492.3,327.23 493.3,327.68 494.3,325.18 495.3,322.63 496.3,321.71 497.3,323.25 498.3,325.93 499.3,328.09 499.6,322.86 500.3,354 501,322.86 500.3,322.86 501.3,322.21 502.3,326.81 501.9,327.32 502.5,350 503.1,327.32 503.3,329.34 504.3,325.78 505.3,319.61 506.3,317.38 507.3,315.08 508.3,313.9 509.3,315.22 509.8,320.46 510.3,317.36 511.3,314.06 512.3,311.29 513.3,309.82 514.3,307.18 515.3,306.94 516.3,305.26 517.3,303.45 518.3,301.97 519.3,303.7 520.3,306.66 520.8,311.2 521.3,307.87 522.3,305.64 523.3,302.26 524.3,303.74 525.3,302.24 526.3,300.47 527.3,300.94 527.5,298.93 528,316 528.5,298.93 528.3,298.07 529.3,297.95 530.3,296.51 531.3,297.6 532.3,296.13 533.3,297.54 534.3,298.1 535.3,299.29 536.3,299.73 537.3,300.56 538.3,302.42 539.3,306.23 539.5,305.67 540,320 540.5,305.67 540.3,305.43 541.3,306.92 541.8,308.73 542.3,309.52 543.3,307.81 544.3,309.4 544.8,313.18 545.3,309.64 546.3,309.45 547.3,311.99 548.3,313.37 549.3,315.21 548.3,315.08 549.5,347.6 550.7,315.08 550.3,314.53 551.3,317.62 552.3,314.74 553.3,315.83 554.3,314.16 555.3,312.32 554.4,312.12 555.4,369 556.4,312.12 556.3,310.35 557.3,308.93 558.3,308.71 559.3,309.69 559.8,314.74 560.3,306.65 561.3,305.27 562.3,302.47 563.3,302.1 564.3,302.76 565.3,303.26 566.3,303.49 566.8,305.83 567.3,302.86 568.3,304.75 569.3,303.41 570.3,305.15 571.3,306.29 572.3,306.55 573.3,303.3 574.3,305.6 575.3,304.71 576.3,305.15 577.3,305.04 578.3,306.18 579.3,305.99 580.3,306.96 581.3,307.53 582.3,307.62 582.8,310 583.3,304.6 584.3,302.58 585.3,304.73 586.3,304.15 586.8,306.08 587.3,308.31 587.8,313.12 588.3,309.81 589.3,309.4 589.5,308.32 590,318 590.5,308.32 590.3,307.86 591.3,308.34 592.3,309.29 592.8,312.39 593.3,310.26 594.3,307.91 595.3,308.45 595.8,310.37 596.3,308.58 597.3,312.57 598.3,313.96 599.3,312.1 599.5,311.87 600,322 600.5,311.87 600.3,311.77 601.3,308.83 602.3,310.61 603.3,309.76 604.3,312.1 605.3,312.72 605.8,317.97 606.3,311.15 606.8,315.43 607.3,311.54 608.3,312.05 609.3,313.44 610.3,312.67 611.3,310.1 611.5,308.62 612,320 612.5,308.62 612.3,307.99 613.3,309.11 614.3,310.85 614.8,314.75 615.3,314.92 616.3,314.18 617.3,314.37 618.3,315.93 619.3,317.74 620.3,309.36 620.8,314.11 620.7,307.6 622.4,296.3 624.1,285 624.9,258 625.5,235 626.4,226 628,223.3 632,222.6 681,221.2" fill="none" stroke="#dc6c53" stroke-width="1.6" stroke-linejoin="round" stroke-linecap="round" />
<polyline points="492.3,329.95 493.3,321.22 494.3,317.15 495.3,315.11 495.5,314.52 496,350 496.5,314.52 496.3,314.26 497.3,315.65 498.3,317.34 499.3,316.55 499.4,313.55 500,335 500.6,313.55 500.3,312.27 501.3,308.99 502.3,307.98 503.3,307.42 503.8,308.79 504.3,308.55 504.1,307.87 504.7,370 505.3,307.87 505.3,306.86 506.3,305.4 507.3,303.22 508.3,302.22 509.3,301.29 510.3,300.76 511.3,301.8 512.3,300.75 513.3,300.52 514.3,299.39 515.3,300.64 516.3,299.43 517.3,298.22 518.3,298.26 519.3,297.31 520.3,297.64 521.3,297.4 521.8,300.9 522.3,296.94 523.3,296.23 524.3,296.2 525.3,295.35 526.3,295.15 527.3,294.7 528.3,295.35 529.3,294.92 530.3,295.2 531.3,295.41 532.3,295.15 533.3,294.65 534.3,295.84 535.3,297.36 536.3,296.76 537.3,298.64 538.3,298.18 538.8,299.5 539.3,299.51 540.3,301.2 541.3,300.44 542.3,302.87 543.3,303.77 544.3,304.73 545.3,306.18 546.3,308.25 547.3,308.34 548.3,310.97 549.3,312.1 550.3,312.65 551.3,312.67 552.3,313.34 551.7,313.62 552.5,335 553.3,313.62 553.3,314.73 554.3,314.08 555.3,312.87 556.3,312.32 557.3,307.15 558.3,303.62 559.3,300.69 560.3,300.88 561.3,299.77 562.3,298.78 563.3,297.55 563.8,300.74 564.3,297.55 565.3,298.49 566.3,298.83 567.3,298.26 568.3,296.6 569.3,296.74 570.3,296.66 571.3,298.07 572.3,301.02 573.3,300.32 574.3,299.3 575.3,298.12 576.3,298.66 577.3,300.67 578.3,301.3 579.3,298.36 580.3,297.19 581.3,296.97 582.3,297.49 583.3,300.75 583.8,302.96 584.3,300.01 585.3,299.22 586.3,299.33 587.3,299.95 588.3,301.84 589.3,303.85 590.3,302.6 591.3,301.75 592.3,299.92 593.3,300.17 594.3,301.85 595.3,301.76 596.3,299.8 597.3,298.16 598.3,298.7 599.3,300.29 600.3,302.55 601.3,301.21 602.3,299.91 603.3,298.95 604.3,299.57 605.3,299.65 606.3,300.39 607.3,298.7 608.3,296.11 609.3,295.87 610.3,297.82 611.3,299.56 612.3,298.77 613.3,297.01 614.3,296.46 614.8,299.99 615.3,298.78 616.3,300.35 617.3,302.04 618.3,299.11 619.3,295.59 620.3,292.81 621.9,288.4 623.6,285 624.3,262 624.9,238 625.8,226 627.3,223.2 630,222.6 650,222.3 681,221.1" fill="none" stroke="#c53537" stroke-width="1.6" stroke-linejoin="round" stroke-linecap="round" />
<polyline points="492.3,318.83 493.3,317.45 494.3,314.82 494.8,312.78 495.3,345 495.8,312.78 495.3,312.78 496.3,311.92 497.3,309.43 498.3,307.43 499.3,304.16 500.3,303.56 501.3,304.73 502.3,306.39 502.8,308.39 503.3,305.58 504.3,304.64 505.3,302.95 506.3,301.48 507.3,299.2 508.3,299.35 509.3,299.32 510.3,299.68 511.3,299.01 512.3,298.63 513.3,298.05 514.3,297.86 515.3,297.19 516.3,296.98 516.8,298.32 517.3,295.72 518.3,295.87 519.3,295.6 520.3,296.02 521.3,294.32 522.3,295.09 523.3,293.63 524.3,293.25 525.3,293.75 526.3,293 527.3,292.66 528.3,292.75 529.3,292.91 530.3,292.9 531.3,293.67 532.3,292.45 533.3,292.8 534.3,294.27 535.3,293.77 536.3,294.47 537.3,295.73 538.3,295.45 539.3,295.54 540.3,295.61 541.3,296.42 542.3,298.74 543.3,299.8 544.3,300.99 545.3,303.78 546.3,304.9 547.3,307.63 548.3,307.86 549.3,309.69 550.3,309.78 551.3,309.9 552.3,310.83 553.3,311.53 552.8,311.41 553.5,330 554.2,311.41 554.3,310.94 555.3,307.53 556.3,304.51 557.3,303.61 558.3,302.12 559.3,299.76 560.3,294.86 561.3,293.04 562.3,293.66 563.3,296.24 564.3,297.07 565.3,296.38 566.3,293.65 567.3,291.79 568.3,292.99 569.3,296.33 570.3,296.28 571.3,296.21 572.3,295.11 573.3,295.58 574.3,298.65 575.3,299.56 576.3,298.47 577.3,295.65 578.3,295.19 579.3,295.28 580.3,297.33 581.3,297.2 582.3,295.61 583.3,292.72 584.3,293.21 585.3,293.62 586.3,295.27 587.3,295.48 588.3,294.27 589.3,293.8 590.3,295.79 591.3,298.47 592.3,298.64 593.3,296.61 593.8,298.14 594.3,295.09 595.3,293.66 596.3,295.37 597.3,297.31 598.3,297.89 599.3,296.88 600.3,296.38 601.3,295.52 602.3,296.64 603.3,297.32 604.3,296.35 605.3,293.99 606.3,292.11 607.3,293.48 608.3,295.56 609.3,296.83 610.3,296.73 611.3,294.98 612.3,293.87 613.3,294.94 614.3,296.56 615.3,295.99 615.8,297.17 616.3,293.28 616.8,295.92 617.3,291.22 618.3,291.89 619.3,290.87 620.3,289.34 620.7,288.4 622.4,285 623.4,275 624,250 624.6,232 625.4,225 626.8,222.8 630,222.4 640,222.3 650,222.1 660,221.8 670,221.4 681,220.9" fill="none" stroke="#a31d26" stroke-width="1.6" stroke-linejoin="round" stroke-linecap="round" />
<polyline points="492.3,322 492.8,372 493.5,330 494.1,345 494.8,318" fill="none" stroke="#a31d26" stroke-width="1.1" stroke-linejoin="round" stroke-linecap="round" />
<rect x="492.1" y="220.6" width="188.9" height="151.5" fill="none" stroke="#3a3a3a" stroke-width="1"/>
<line x1="509.6" y1="372.1" x2="509.6" y2="369.1" stroke="#3a3a3a" stroke-width="0.9" />
<line x1="509.6" y1="220.6" x2="509.6" y2="223.6" stroke="#3a3a3a" stroke-width="0.9" />
<text x="509.6" y="382" font-size="8.3" text-anchor="middle" font-weight="normal" font-style="normal" fill="#231f20" >15</text>
<line x1="538.17" y1="372.1" x2="538.17" y2="369.1" stroke="#3a3a3a" stroke-width="0.9" />
<line x1="538.17" y1="220.6" x2="538.17" y2="223.6" stroke="#3a3a3a" stroke-width="0.9" />
<text x="538.17" y="382" font-size="8.3" text-anchor="middle" font-weight="normal" font-style="normal" fill="#231f20" >20</text>
<line x1="566.73" y1="372.1" x2="566.73" y2="369.1" stroke="#3a3a3a" stroke-width="0.9" />
<line x1="566.73" y1="220.6" x2="566.73" y2="223.6" stroke="#3a3a3a" stroke-width="0.9" />
<text x="566.73" y="382" font-size="8.3" text-anchor="middle" font-weight="normal" font-style="normal" fill="#231f20" >25</text>
<line x1="595.3" y1="372.1" x2="595.3" y2="369.1" stroke="#3a3a3a" stroke-width="0.9" />
<line x1="595.3" y1="220.6" x2="595.3" y2="223.6" stroke="#3a3a3a" stroke-width="0.9" />
<text x="595.3" y="382" font-size="8.3" text-anchor="middle" font-weight="normal" font-style="normal" fill="#231f20" >30</text>
<line x1="623.87" y1="372.1" x2="623.87" y2="369.1" stroke="#3a3a3a" stroke-width="0.9" />
<line x1="623.87" y1="220.6" x2="623.87" y2="223.6" stroke="#3a3a3a" stroke-width="0.9" />
<text x="623.87" y="382" font-size="8.3" text-anchor="middle" font-weight="normal" font-style="normal" fill="#231f20" >35</text>
<line x1="652.43" y1="372.1" x2="652.43" y2="369.1" stroke="#3a3a3a" stroke-width="0.9" />
<line x1="652.43" y1="220.6" x2="652.43" y2="223.6" stroke="#3a3a3a" stroke-width="0.9" />
<text x="652.43" y="382" font-size="8.3" text-anchor="middle" font-weight="normal" font-style="normal" fill="#231f20" >40</text>
<line x1="681" y1="372.1" x2="681" y2="369.1" stroke="#3a3a3a" stroke-width="0.9" />
<line x1="681" y1="220.6" x2="681" y2="223.6" stroke="#3a3a3a" stroke-width="0.9" />
<text x="681" y="382" font-size="8.3" text-anchor="middle" font-weight="normal" font-style="normal" fill="#231f20" >45</text>
<line x1="495.32" y1="372.1" x2="495.32" y2="370.5" stroke="#3a3a3a" stroke-width="0.9" />
<line x1="495.32" y1="220.6" x2="495.32" y2="222.2" stroke="#3a3a3a" stroke-width="0.9" />
<line x1="523.88" y1="372.1" x2="523.88" y2="370.5" stroke="#3a3a3a" stroke-width="0.9" />
<line x1="523.88" y1="220.6" x2="523.88" y2="222.2" stroke="#3a3a3a" stroke-width="0.9" />
<line x1="552.45" y1="372.1" x2="552.45" y2="370.5" stroke="#3a3a3a" stroke-width="0.9" />
<line x1="552.45" y1="220.6" x2="552.45" y2="222.2" stroke="#3a3a3a" stroke-width="0.9" />
<line x1="581.02" y1="372.1" x2="581.02" y2="370.5" stroke="#3a3a3a" stroke-width="0.9" />
<line x1="581.02" y1="220.6" x2="581.02" y2="222.2" stroke="#3a3a3a" stroke-width="0.9" />
<line x1="609.58" y1="372.1" x2="609.58" y2="370.5" stroke="#3a3a3a" stroke-width="0.9" />
<line x1="609.58" y1="220.6" x2="609.58" y2="222.2" stroke="#3a3a3a" stroke-width="0.9" />
<line x1="638.15" y1="372.1" x2="638.15" y2="370.5" stroke="#3a3a3a" stroke-width="0.9" />
<line x1="638.15" y1="220.6" x2="638.15" y2="222.2" stroke="#3a3a3a" stroke-width="0.9" />
<line x1="666.72" y1="372.1" x2="666.72" y2="370.5" stroke="#3a3a3a" stroke-width="0.9" />
<line x1="666.72" y1="220.6" x2="666.72" y2="222.2" stroke="#3a3a3a" stroke-width="0.9" />
<line x1="492.1" y1="372.1" x2="495.1" y2="372.1" stroke="#3a3a3a" stroke-width="0.9" />
<line x1="681" y1="372.1" x2="678" y2="372.1" stroke="#3a3a3a" stroke-width="0.9" />
<text x="488.8" y="374.8" font-size="8.3" text-anchor="end" font-weight="normal" font-style="normal" fill="#231f20" >1E-4</text>
<line x1="492.1" y1="360.7" x2="493.7" y2="360.7" stroke="#3a3a3a" stroke-width="0.9" />
<line x1="681" y1="360.7" x2="679.4" y2="360.7" stroke="#3a3a3a" stroke-width="0.9" />
<line x1="492.1" y1="354.03" x2="493.7" y2="354.03" stroke="#3a3a3a" stroke-width="0.9" />
<line x1="681" y1="354.03" x2="679.4" y2="354.03" stroke="#3a3a3a" stroke-width="0.9" />
<line x1="492.1" y1="349.29" x2="493.7" y2="349.29" stroke="#3a3a3a" stroke-width="0.9" />
<line x1="681" y1="349.29" x2="679.4" y2="349.29" stroke="#3a3a3a" stroke-width="0.9" />
<line x1="492.1" y1="345.62" x2="493.7" y2="345.62" stroke="#3a3a3a" stroke-width="0.9" />
<line x1="681" y1="345.62" x2="679.4" y2="345.62" stroke="#3a3a3a" stroke-width="0.9" />
<line x1="492.1" y1="342.62" x2="493.7" y2="342.62" stroke="#3a3a3a" stroke-width="0.9" />
<line x1="681" y1="342.62" x2="679.4" y2="342.62" stroke="#3a3a3a" stroke-width="0.9" />
<line x1="492.1" y1="340.09" x2="493.7" y2="340.09" stroke="#3a3a3a" stroke-width="0.9" />
<line x1="681" y1="340.09" x2="679.4" y2="340.09" stroke="#3a3a3a" stroke-width="0.9" />
<line x1="492.1" y1="337.89" x2="493.7" y2="337.89" stroke="#3a3a3a" stroke-width="0.9" />
<line x1="681" y1="337.89" x2="679.4" y2="337.89" stroke="#3a3a3a" stroke-width="0.9" />
<line x1="492.1" y1="335.95" x2="493.7" y2="335.95" stroke="#3a3a3a" stroke-width="0.9" />
<line x1="681" y1="335.95" x2="679.4" y2="335.95" stroke="#3a3a3a" stroke-width="0.9" />
<line x1="492.1" y1="334.22" x2="495.1" y2="334.22" stroke="#3a3a3a" stroke-width="0.9" />
<line x1="681" y1="334.22" x2="678" y2="334.22" stroke="#3a3a3a" stroke-width="0.9" />
<text x="488.8" y="336.92" font-size="8.3" text-anchor="end" font-weight="normal" font-style="normal" fill="#231f20" >0.001</text>
<line x1="492.1" y1="322.82" x2="493.7" y2="322.82" stroke="#3a3a3a" stroke-width="0.9" />
<line x1="681" y1="322.82" x2="679.4" y2="322.82" stroke="#3a3a3a" stroke-width="0.9" />
<line x1="492.1" y1="316.15" x2="493.7" y2="316.15" stroke="#3a3a3a" stroke-width="0.9" />
<line x1="681" y1="316.15" x2="679.4" y2="316.15" stroke="#3a3a3a" stroke-width="0.9" />
<line x1="492.1" y1="311.41" x2="493.7" y2="311.41" stroke="#3a3a3a" stroke-width="0.9" />
<line x1="681" y1="311.41" x2="679.4" y2="311.41" stroke="#3a3a3a" stroke-width="0.9" />
<line x1="492.1" y1="307.74" x2="493.7" y2="307.74" stroke="#3a3a3a" stroke-width="0.9" />
<line x1="681" y1="307.74" x2="679.4" y2="307.74" stroke="#3a3a3a" stroke-width="0.9" />
<line x1="492.1" y1="304.74" x2="493.7" y2="304.74" stroke="#3a3a3a" stroke-width="0.9" />
<line x1="681" y1="304.74" x2="679.4" y2="304.74" stroke="#3a3a3a" stroke-width="0.9" />
<line x1="492.1" y1="302.21" x2="493.7" y2="302.21" stroke="#3a3a3a" stroke-width="0.9" />
<line x1="681" y1="302.21" x2="679.4" y2="302.21" stroke="#3a3a3a" stroke-width="0.9" />
<line x1="492.1" y1="300.01" x2="493.7" y2="300.01" stroke="#3a3a3a" stroke-width="0.9" />
<line x1="681" y1="300.01" x2="679.4" y2="300.01" stroke="#3a3a3a" stroke-width="0.9" />
<line x1="492.1" y1="298.07" x2="493.7" y2="298.07" stroke="#3a3a3a" stroke-width="0.9" />
<line x1="681" y1="298.07" x2="679.4" y2="298.07" stroke="#3a3a3a" stroke-width="0.9" />
<line x1="492.1" y1="296.34" x2="495.1" y2="296.34" stroke="#3a3a3a" stroke-width="0.9" />
<line x1="681" y1="296.34" x2="678" y2="296.34" stroke="#3a3a3a" stroke-width="0.9" />
<text x="488.8" y="299.04" font-size="8.3" text-anchor="end" font-weight="normal" font-style="normal" fill="#231f20" >0.01</text>
<line x1="492.1" y1="284.94" x2="493.7" y2="284.94" stroke="#3a3a3a" stroke-width="0.9" />
<line x1="681" y1="284.94" x2="679.4" y2="284.94" stroke="#3a3a3a" stroke-width="0.9" />
<line x1="492.1" y1="278.27" x2="493.7" y2="278.27" stroke="#3a3a3a" stroke-width="0.9" />
<line x1="681" y1="278.27" x2="679.4" y2="278.27" stroke="#3a3a3a" stroke-width="0.9" />
<line x1="492.1" y1="273.53" x2="493.7" y2="273.53" stroke="#3a3a3a" stroke-width="0.9" />
<line x1="681" y1="273.53" x2="679.4" y2="273.53" stroke="#3a3a3a" stroke-width="0.9" />
<line x1="492.1" y1="269.86" x2="493.7" y2="269.86" stroke="#3a3a3a" stroke-width="0.9" />
<line x1="681" y1="269.86" x2="679.4" y2="269.86" stroke="#3a3a3a" stroke-width="0.9" />
<line x1="492.1" y1="266.86" x2="493.7" y2="266.86" stroke="#3a3a3a" stroke-width="0.9" />
<line x1="681" y1="266.86" x2="679.4" y2="266.86" stroke="#3a3a3a" stroke-width="0.9" />
<line x1="492.1" y1="264.33" x2="493.7" y2="264.33" stroke="#3a3a3a" stroke-width="0.9" />
<line x1="681" y1="264.33" x2="679.4" y2="264.33" stroke="#3a3a3a" stroke-width="0.9" />
<line x1="492.1" y1="262.13" x2="493.7" y2="262.13" stroke="#3a3a3a" stroke-width="0.9" />
<line x1="681" y1="262.13" x2="679.4" y2="262.13" stroke="#3a3a3a" stroke-width="0.9" />
<line x1="492.1" y1="260.19" x2="493.7" y2="260.19" stroke="#3a3a3a" stroke-width="0.9" />
<line x1="681" y1="260.19" x2="679.4" y2="260.19" stroke="#3a3a3a" stroke-width="0.9" />
<line x1="492.1" y1="258.46" x2="495.1" y2="258.46" stroke="#3a3a3a" stroke-width="0.9" />
<line x1="681" y1="258.46" x2="678" y2="258.46" stroke="#3a3a3a" stroke-width="0.9" />
<text x="488.8" y="261.16" font-size="8.3" text-anchor="end" font-weight="normal" font-style="normal" fill="#231f20" >0.1</text>
<line x1="492.1" y1="247.06" x2="493.7" y2="247.06" stroke="#3a3a3a" stroke-width="0.9" />
<line x1="681" y1="247.06" x2="679.4" y2="247.06" stroke="#3a3a3a" stroke-width="0.9" />
<line x1="492.1" y1="240.39" x2="493.7" y2="240.39" stroke="#3a3a3a" stroke-width="0.9" />
<line x1="681" y1="240.39" x2="679.4" y2="240.39" stroke="#3a3a3a" stroke-width="0.9" />
<line x1="492.1" y1="235.65" x2="493.7" y2="235.65" stroke="#3a3a3a" stroke-width="0.9" />
<line x1="681" y1="235.65" x2="679.4" y2="235.65" stroke="#3a3a3a" stroke-width="0.9" />
<line x1="492.1" y1="231.98" x2="493.7" y2="231.98" stroke="#3a3a3a" stroke-width="0.9" />
<line x1="681" y1="231.98" x2="679.4" y2="231.98" stroke="#3a3a3a" stroke-width="0.9" />
<line x1="492.1" y1="228.98" x2="493.7" y2="228.98" stroke="#3a3a3a" stroke-width="0.9" />
<line x1="681" y1="228.98" x2="679.4" y2="228.98" stroke="#3a3a3a" stroke-width="0.9" />
<line x1="492.1" y1="226.45" x2="493.7" y2="226.45" stroke="#3a3a3a" stroke-width="0.9" />
<line x1="681" y1="226.45" x2="679.4" y2="226.45" stroke="#3a3a3a" stroke-width="0.9" />
<line x1="492.1" y1="224.25" x2="493.7" y2="224.25" stroke="#3a3a3a" stroke-width="0.9" />
<line x1="681" y1="224.25" x2="679.4" y2="224.25" stroke="#3a3a3a" stroke-width="0.9" />
<line x1="492.1" y1="222.31" x2="493.7" y2="222.31" stroke="#3a3a3a" stroke-width="0.9" />
<line x1="681" y1="222.31" x2="679.4" y2="222.31" stroke="#3a3a3a" stroke-width="0.9" />
<line x1="492.1" y1="220.58" x2="495.1" y2="220.58" stroke="#3a3a3a" stroke-width="0.9" />
<line x1="681" y1="220.58" x2="678" y2="220.58" stroke="#3a3a3a" stroke-width="0.9" />
<text x="488.8" y="223.28" font-size="8.3" text-anchor="end" font-weight="normal" font-style="normal" fill="#231f20" >1</text>
<text x="586.73" y="395.7" font-size="9.2" text-anchor="middle" font-weight="normal" font-style="normal" fill="#231f20" ><tspan font-style="italic">H</tspan> (T)</text>
<text transform="translate(465.7,298.8) rotate(-90)" font-size="9.4" text-anchor="middle" fill="#231f20"><tspan font-style="italic">V</tspan><tspan font-size="6" dy="1.6">ac</tspan><tspan dy="-1.6">/</tspan><tspan font-style="italic">I</tspan><tspan font-size="6" dy="1.6">ac</tspan><tspan dy="-1.6"> (Ω)</tspan></text>
<line x1="625" y1="327.1" x2="640" y2="327.1" stroke="#a31d26" stroke-width="1.6" />
<text x="641.5" y="329.3" font-size="6.3" text-anchor="start" font-weight="normal" font-style="normal" fill="#231f20" >0.44 kA·cm<tspan font-size="4.4" dy="-2.6">−2</tspan></text>
<line x1="625" y1="335.9" x2="640" y2="335.9" stroke="#c53537" stroke-width="1.6" />
<text x="641.5" y="338.1" font-size="6.3" text-anchor="start" font-weight="normal" font-style="normal" fill="#231f20" >0.35 kA·cm<tspan font-size="4.4" dy="-2.6">−2</tspan></text>
<line x1="625" y1="344.7" x2="640" y2="344.7" stroke="#dc6c53" stroke-width="1.6" />
<text x="641.5" y="346.9" font-size="6.3" text-anchor="start" font-weight="normal" font-style="normal" fill="#231f20" >0.26 kA·cm<tspan font-size="4.4" dy="-2.6">−2</tspan></text>
<line x1="625" y1="353.5" x2="640" y2="353.5" stroke="#eea172" stroke-width="1.6" />
<text x="641.5" y="355.7" font-size="6.3" text-anchor="start" font-weight="normal" font-style="normal" fill="#231f20" >0.18 kA·cm<tspan font-size="4.4" dy="-2.6">−2</tspan></text>
<line x1="625" y1="362.3" x2="640" y2="362.3" stroke="#f9cc8e" stroke-width="1.6" />
<text x="641.5" y="364.5" font-size="6.3" text-anchor="start" font-weight="normal" font-style="normal" fill="#231f20" >0.02 kA·cm<tspan font-size="4.4" dy="-2.6">−2</tspan></text>
</svg></body></html>
